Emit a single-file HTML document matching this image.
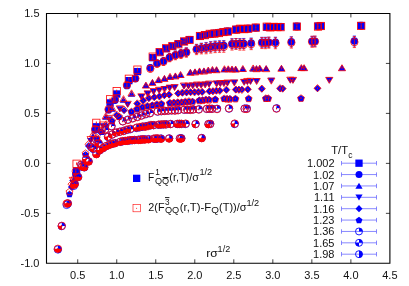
<!DOCTYPE html><html><head><meta charset="utf-8"><style>html,body{margin:0;padding:0;background:#fff}body{width:409px;height:286px;overflow:hidden;font-family:"Liberation Sans",sans-serif}</style></head><body><svg width="409" height="286" viewBox="0 0 409 286" style="display:block"><rect width="409" height="286" fill="#fff"/><g><path d="M76.59,169.52V172.52" stroke="#0000ff" stroke-width="0.7" fill="none"/><rect x="72.94" y="167.37" width="7.3" height="7.3" fill="#0000ff"/><path d="M96.34,125.30V128.30" stroke="#0000ff" stroke-width="0.7" fill="none"/><rect x="92.69" y="123.15" width="7.3" height="7.3" fill="#0000ff"/><path d="M110.05,101.43V104.43" stroke="#0000ff" stroke-width="0.7" fill="none"/><rect x="106.40" y="99.28" width="7.3" height="7.3" fill="#0000ff"/><path d="M116.70,92.50V95.50" stroke="#0000ff" stroke-width="0.7" fill="none"/><rect x="113.05" y="90.35" width="7.3" height="7.3" fill="#0000ff"/><path d="M128.84,78.92V82.36" stroke="#0000ff" stroke-width="0.7" fill="none"/><rect x="125.19" y="76.99" width="7.3" height="7.3" fill="#0000ff"/><path d="M137.44,69.65V73.52" stroke="#0000ff" stroke-width="0.7" fill="none"/><rect x="133.79" y="67.94" width="7.3" height="7.3" fill="#0000ff"/><path d="M152.72,55.34V59.97M151.12,55.34h3.2M151.12,59.97h3.2" stroke="#0000ff" stroke-width="0.7" fill="none"/><rect x="149.07" y="54.01" width="7.3" height="7.3" fill="#0000ff"/><path d="M159.64,49.64V54.62M158.04,49.64h3.2M158.04,54.62h3.2" stroke="#0000ff" stroke-width="0.7" fill="none"/><rect x="155.99" y="48.48" width="7.3" height="7.3" fill="#0000ff"/><path d="M166.18,45.92V51.23M164.58,45.92h3.2M164.58,51.23h3.2" stroke="#0000ff" stroke-width="0.7" fill="none"/><rect x="162.53" y="44.93" width="7.3" height="7.3" fill="#0000ff"/><path d="M172.40,43.52V49.14M170.80,43.52h3.2M170.80,49.14h3.2" stroke="#0000ff" stroke-width="0.7" fill="none"/><rect x="168.75" y="42.68" width="7.3" height="7.3" fill="#0000ff"/><path d="M178.35,40.82V46.74M176.75,40.82h3.2M176.75,46.74h3.2" stroke="#0000ff" stroke-width="0.7" fill="none"/><rect x="174.70" y="40.13" width="7.3" height="7.3" fill="#0000ff"/><path d="M184.05,38.38V44.59M182.45,38.38h3.2M182.45,44.59h3.2" stroke="#0000ff" stroke-width="0.7" fill="none"/><rect x="180.40" y="37.83" width="7.3" height="7.3" fill="#0000ff"/><path d="M189.54,36.42V42.89M187.94,36.42h3.2M187.94,42.89h3.2" stroke="#0000ff" stroke-width="0.7" fill="none"/><rect x="185.89" y="36.00" width="7.3" height="7.3" fill="#0000ff"/><path d="M199.95,32.63V39.43M198.35,32.63h3.2M198.35,39.43h3.2" stroke="#0000ff" stroke-width="0.7" fill="none"/><rect x="196.30" y="32.38" width="7.3" height="7.3" fill="#0000ff"/><path d="M204.91,31.59V38.39M203.31,31.59h3.2M203.31,38.39h3.2" stroke="#0000ff" stroke-width="0.7" fill="none"/><rect x="201.26" y="31.34" width="7.3" height="7.3" fill="#0000ff"/><path d="M209.73,30.82V37.62M208.13,30.82h3.2M208.13,37.62h3.2" stroke="#0000ff" stroke-width="0.7" fill="none"/><rect x="206.08" y="30.57" width="7.3" height="7.3" fill="#0000ff"/><path d="M214.42,30.04V36.84M212.82,30.04h3.2M212.82,36.84h3.2" stroke="#0000ff" stroke-width="0.7" fill="none"/><rect x="210.77" y="29.79" width="7.3" height="7.3" fill="#0000ff"/><path d="M218.98,29.26V36.06M217.38,29.26h3.2M217.38,36.06h3.2" stroke="#0000ff" stroke-width="0.7" fill="none"/><rect x="215.33" y="29.01" width="7.3" height="7.3" fill="#0000ff"/><path d="M223.44,28.61V35.41M221.84,28.61h3.2M221.84,35.41h3.2" stroke="#0000ff" stroke-width="0.7" fill="none"/><rect x="219.79" y="28.36" width="7.3" height="7.3" fill="#0000ff"/><path d="M227.78,27.93V34.73M226.18,27.93h3.2M226.18,34.73h3.2" stroke="#0000ff" stroke-width="0.7" fill="none"/><rect x="224.13" y="27.68" width="7.3" height="7.3" fill="#0000ff"/><path d="M236.19,26.09V32.89M234.59,26.09h3.2M234.59,32.89h3.2" stroke="#0000ff" stroke-width="0.7" fill="none"/><rect x="232.54" y="25.84" width="7.3" height="7.3" fill="#0000ff"/><path d="M240.26,25.77V32.57M238.66,25.77h3.2M238.66,32.57h3.2" stroke="#0000ff" stroke-width="0.7" fill="none"/><rect x="236.61" y="25.52" width="7.3" height="7.3" fill="#0000ff"/><path d="M244.26,25.46V32.26M242.66,25.46h3.2M242.66,32.26h3.2" stroke="#0000ff" stroke-width="0.7" fill="none"/><rect x="240.61" y="25.21" width="7.3" height="7.3" fill="#0000ff"/><path d="M248.17,25.16V31.96M246.57,25.16h3.2M246.57,31.96h3.2" stroke="#0000ff" stroke-width="0.7" fill="none"/><rect x="244.52" y="24.91" width="7.3" height="7.3" fill="#0000ff"/><path d="M255.79,24.36V31.16M254.19,24.36h3.2M254.19,31.16h3.2" stroke="#0000ff" stroke-width="0.7" fill="none"/><rect x="252.14" y="24.11" width="7.3" height="7.3" fill="#0000ff"/><path d="M266.74,23.77V30.57M265.14,23.77h3.2M265.14,30.57h3.2" stroke="#0000ff" stroke-width="0.7" fill="none"/><rect x="263.09" y="23.52" width="7.3" height="7.3" fill="#0000ff"/><path d="M270.28,23.59V30.39M268.68,23.59h3.2M268.68,30.39h3.2" stroke="#0000ff" stroke-width="0.7" fill="none"/><rect x="266.63" y="23.34" width="7.3" height="7.3" fill="#0000ff"/><path d="M273.76,23.52V30.32M272.16,23.52h3.2M272.16,30.32h3.2" stroke="#0000ff" stroke-width="0.7" fill="none"/><rect x="270.11" y="23.27" width="7.3" height="7.3" fill="#0000ff"/><path d="M277.19,23.44V30.24M275.59,23.44h3.2M275.59,30.24h3.2" stroke="#0000ff" stroke-width="0.7" fill="none"/><rect x="273.54" y="23.19" width="7.3" height="7.3" fill="#0000ff"/><path d="M280.58,23.36V30.16M278.98,23.36h3.2M278.98,30.16h3.2" stroke="#0000ff" stroke-width="0.7" fill="none"/><rect x="276.93" y="23.11" width="7.3" height="7.3" fill="#0000ff"/><path d="M296.83,23.00V29.80M295.23,23.00h3.2M295.23,29.80h3.2" stroke="#0000ff" stroke-width="0.7" fill="none"/><rect x="293.18" y="22.75" width="7.3" height="7.3" fill="#0000ff"/><path d="M318.00,22.74V29.54M316.40,22.74h3.2M316.40,29.54h3.2" stroke="#0000ff" stroke-width="0.7" fill="none"/><rect x="314.35" y="22.49" width="7.3" height="7.3" fill="#0000ff"/><path d="M320.89,22.70V29.50M319.29,22.70h3.2M319.29,29.50h3.2" stroke="#0000ff" stroke-width="0.7" fill="none"/><rect x="317.24" y="22.45" width="7.3" height="7.3" fill="#0000ff"/><path d="M361.20,22.20V29.00M359.60,22.20h3.2M359.60,29.00h3.2" stroke="#0000ff" stroke-width="0.7" fill="none"/><rect x="357.55" y="21.95" width="7.3" height="7.3" fill="#0000ff"/><path d="M75.79,172.03V176.03M74.19,172.03h3.2M74.19,176.03h3.2" stroke="#0000ff" stroke-width="0.7" fill="none"/><circle cx="75.79" cy="174.03" r="3.7" fill="#0000ff"/><path d="M95.12,127.97V131.97M93.52,127.97h3.2M93.52,131.97h3.2" stroke="#0000ff" stroke-width="0.7" fill="none"/><circle cx="95.12" cy="129.97" r="3.7" fill="#0000ff"/><path d="M108.54,107.89V111.89M106.94,107.89h3.2M106.94,111.89h3.2" stroke="#0000ff" stroke-width="0.7" fill="none"/><circle cx="108.54" cy="109.89" r="3.7" fill="#0000ff"/><path d="M115.05,98.31V102.31M113.45,98.31h3.2M113.45,102.31h3.2" stroke="#0000ff" stroke-width="0.7" fill="none"/><circle cx="115.05" cy="100.31" r="3.7" fill="#0000ff"/><path d="M126.93,83.40V87.86M125.33,83.40h3.2M125.33,87.86h3.2" stroke="#0000ff" stroke-width="0.7" fill="none"/><circle cx="126.93" cy="85.63" r="3.7" fill="#0000ff"/><path d="M135.35,76.16V81.18M133.75,76.16h3.2M133.75,81.18h3.2" stroke="#0000ff" stroke-width="0.7" fill="none"/><circle cx="135.35" cy="78.67" r="3.7" fill="#0000ff"/><path d="M150.30,64.78V70.80M148.70,64.78h3.2M148.70,70.80h3.2" stroke="#0000ff" stroke-width="0.7" fill="none"/><circle cx="150.3" cy="67.79" r="3.7" fill="#0000ff"/><path d="M157.07,59.93V66.40M155.47,59.93h3.2M155.47,66.40h3.2" stroke="#0000ff" stroke-width="0.7" fill="none"/><circle cx="157.07" cy="63.17" r="3.7" fill="#0000ff"/><path d="M163.48,57.46V64.36M161.88,57.46h3.2M161.88,64.36h3.2" stroke="#0000ff" stroke-width="0.7" fill="none"/><circle cx="163.48" cy="60.91" r="3.7" fill="#0000ff"/><path d="M169.57,53.61V60.91M167.97,53.61h3.2M167.97,60.91h3.2" stroke="#0000ff" stroke-width="0.7" fill="none"/><circle cx="169.57" cy="57.26" r="3.7" fill="#0000ff"/><path d="M175.39,50.98V58.67M173.79,50.98h3.2M173.79,58.67h3.2" stroke="#0000ff" stroke-width="0.7" fill="none"/><circle cx="175.39" cy="54.83" r="3.7" fill="#0000ff"/><path d="M180.97,49.47V57.54M179.37,49.47h3.2M179.37,57.54h3.2" stroke="#0000ff" stroke-width="0.7" fill="none"/><circle cx="180.97" cy="53.51" r="3.7" fill="#0000ff"/><path d="M186.34,47.83V56.25M184.74,47.83h3.2M184.74,56.25h3.2" stroke="#0000ff" stroke-width="0.7" fill="none"/><circle cx="186.34" cy="52.04" r="3.7" fill="#0000ff"/><path d="M196.53,44.30V53.40M194.93,44.30h3.2M194.93,53.40h3.2" stroke="#0000ff" stroke-width="0.7" fill="none"/><circle cx="196.53" cy="48.85" r="3.7" fill="#0000ff"/><path d="M201.39,43.20V52.63M199.79,43.20h3.2M199.79,52.63h3.2" stroke="#0000ff" stroke-width="0.7" fill="none"/><circle cx="201.39" cy="47.92" r="3.7" fill="#0000ff"/><path d="M206.11,42.46V52.20M204.51,42.46h3.2M204.51,52.20h3.2" stroke="#0000ff" stroke-width="0.7" fill="none"/><circle cx="206.11" cy="47.33" r="3.7" fill="#0000ff"/><path d="M210.70,41.67V51.67M209.10,41.67h3.2M209.10,51.67h3.2" stroke="#0000ff" stroke-width="0.7" fill="none"/><circle cx="210.7" cy="46.67" r="3.7" fill="#0000ff"/><path d="M215.16,40.99V50.99M213.56,40.99h3.2M213.56,50.99h3.2" stroke="#0000ff" stroke-width="0.7" fill="none"/><circle cx="215.16" cy="45.99" r="3.7" fill="#0000ff"/><path d="M219.52,40.77V50.77M217.92,40.77h3.2M217.92,50.77h3.2" stroke="#0000ff" stroke-width="0.7" fill="none"/><circle cx="219.52" cy="45.77" r="3.7" fill="#0000ff"/><path d="M223.78,40.56V50.56M222.18,40.56h3.2M222.18,50.56h3.2" stroke="#0000ff" stroke-width="0.7" fill="none"/><circle cx="223.78" cy="45.56" r="3.7" fill="#0000ff"/><path d="M232.01,38.70V48.70M230.41,38.70h3.2M230.41,48.70h3.2" stroke="#0000ff" stroke-width="0.7" fill="none"/><circle cx="232.01" cy="43.7" r="3.7" fill="#0000ff"/><path d="M235.99,38.63V48.63M234.39,38.63h3.2M234.39,48.63h3.2" stroke="#0000ff" stroke-width="0.7" fill="none"/><circle cx="235.99" cy="43.63" r="3.7" fill="#0000ff"/><path d="M239.90,38.56V48.56M238.30,38.56h3.2M238.30,48.56h3.2" stroke="#0000ff" stroke-width="0.7" fill="none"/><circle cx="239.9" cy="43.56" r="3.7" fill="#0000ff"/><path d="M243.73,38.46V48.46M242.13,38.46h3.2M242.13,48.46h3.2" stroke="#0000ff" stroke-width="0.7" fill="none"/><circle cx="243.73" cy="43.46" r="3.7" fill="#0000ff"/><path d="M251.19,38.02V48.02M249.59,38.02h3.2M249.59,48.02h3.2" stroke="#0000ff" stroke-width="0.7" fill="none"/><circle cx="251.19" cy="43.02" r="3.7" fill="#0000ff"/><path d="M261.91,37.29V47.29M260.31,37.29h3.2M260.31,47.29h3.2" stroke="#0000ff" stroke-width="0.7" fill="none"/><circle cx="261.91" cy="42.29" r="3.7" fill="#0000ff"/><path d="M265.37,37.27V47.27M263.77,37.27h3.2M263.77,47.27h3.2" stroke="#0000ff" stroke-width="0.7" fill="none"/><circle cx="265.37" cy="42.27" r="3.7" fill="#0000ff"/><path d="M268.78,37.24V47.24M267.18,37.24h3.2M267.18,47.24h3.2" stroke="#0000ff" stroke-width="0.7" fill="none"/><circle cx="268.78" cy="42.24" r="3.7" fill="#0000ff"/><path d="M275.45,37.19V47.19M273.85,37.19h3.2M273.85,47.19h3.2" stroke="#0000ff" stroke-width="0.7" fill="none"/><circle cx="275.45" cy="42.19" r="3.7" fill="#0000ff"/><path d="M291.36,36.79V46.79M289.76,36.79h3.2M289.76,46.79h3.2" stroke="#0000ff" stroke-width="0.7" fill="none"/><circle cx="291.36" cy="41.79" r="3.7" fill="#0000ff"/><path d="M312.08,36.32V46.32M310.48,36.32h3.2M310.48,46.32h3.2" stroke="#0000ff" stroke-width="0.7" fill="none"/><circle cx="312.08" cy="41.32" r="3.7" fill="#0000ff"/><path d="M314.91,36.29V46.29M313.31,36.29h3.2M313.31,46.29h3.2" stroke="#0000ff" stroke-width="0.7" fill="none"/><circle cx="314.91" cy="41.29" r="3.7" fill="#0000ff"/><path d="M354.37,36.00V46.00M352.77,36.00h3.2M352.77,46.00h3.2" stroke="#0000ff" stroke-width="0.7" fill="none"/><circle cx="354.37" cy="41.0" r="3.7" fill="#0000ff"/><path d="M74.33,177.23V179.63" stroke="#0000ff" stroke-width="0.7" fill="none"/><polygon points="74.33,175.33 70.73,181.33 77.93,181.33" fill="#0000ff"/><path d="M92.91,134.79V137.19" stroke="#0000ff" stroke-width="0.7" fill="none"/><polygon points="92.91,132.89 89.31,138.89 96.51,138.89" fill="#0000ff"/><path d="M105.80,115.77V118.17" stroke="#0000ff" stroke-width="0.7" fill="none"/><polygon points="105.80,113.87 102.20,119.87 109.40,119.87" fill="#0000ff"/><path d="M112.05,107.76V110.16" stroke="#0000ff" stroke-width="0.7" fill="none"/><polygon points="112.05,105.86 108.45,111.86 115.65,111.86" fill="#0000ff"/><path d="M123.47,98.72V101.12" stroke="#0000ff" stroke-width="0.7" fill="none"/><polygon points="123.47,96.82 119.87,102.82 127.07,102.82" fill="#0000ff"/><path d="M131.56,92.55V94.95" stroke="#0000ff" stroke-width="0.7" fill="none"/><polygon points="131.56,90.65 127.96,96.65 135.16,96.65" fill="#0000ff"/><path d="M145.92,83.95V86.35" stroke="#0000ff" stroke-width="0.7" fill="none"/><polygon points="145.92,82.05 142.32,88.05 149.52,88.05" fill="#0000ff"/><path d="M152.43,81.06V83.46" stroke="#0000ff" stroke-width="0.7" fill="none"/><polygon points="152.43,79.16 148.83,85.16 156.03,85.16" fill="#0000ff"/><path d="M158.58,79.02V81.42" stroke="#0000ff" stroke-width="0.7" fill="none"/><polygon points="158.58,77.12 154.98,83.12 162.18,83.12" fill="#0000ff"/><path d="M164.43,77.18V79.58" stroke="#0000ff" stroke-width="0.7" fill="none"/><polygon points="164.43,75.28 160.83,81.28 168.03,81.28" fill="#0000ff"/><path d="M170.02,75.70V78.10" stroke="#0000ff" stroke-width="0.7" fill="none"/><polygon points="170.02,73.80 166.42,79.80 173.62,79.80" fill="#0000ff"/><path d="M175.39,74.62V77.02" stroke="#0000ff" stroke-width="0.7" fill="none"/><polygon points="175.39,72.72 171.79,78.72 178.99,78.72" fill="#0000ff"/><path d="M180.55,73.55V75.95" stroke="#0000ff" stroke-width="0.7" fill="none"/><polygon points="180.55,71.65 176.95,77.65 184.15,77.65" fill="#0000ff"/><path d="M190.34,70.86V73.26" stroke="#0000ff" stroke-width="0.7" fill="none"/><polygon points="190.34,68.96 186.74,74.96 193.94,74.96" fill="#0000ff"/><path d="M195.01,70.35V72.75" stroke="#0000ff" stroke-width="0.7" fill="none"/><polygon points="195.01,68.45 191.41,74.45 198.61,74.45" fill="#0000ff"/><path d="M199.54,69.83V72.23" stroke="#0000ff" stroke-width="0.7" fill="none"/><polygon points="199.54,67.93 195.94,73.93 203.14,73.93" fill="#0000ff"/><path d="M203.95,69.46V71.86" stroke="#0000ff" stroke-width="0.7" fill="none"/><polygon points="203.95,67.56 200.35,73.56 207.55,73.56" fill="#0000ff"/><path d="M208.24,69.11V71.51" stroke="#0000ff" stroke-width="0.7" fill="none"/><polygon points="208.24,67.21 204.64,73.21 211.84,73.21" fill="#0000ff"/><path d="M212.43,68.77V71.17" stroke="#0000ff" stroke-width="0.7" fill="none"/><polygon points="212.43,66.87 208.83,72.87 216.03,72.87" fill="#0000ff"/><path d="M216.52,68.51V70.91" stroke="#0000ff" stroke-width="0.7" fill="none"/><polygon points="216.52,66.61 212.92,72.61 220.12,72.61" fill="#0000ff"/><path d="M224.42,68.08V70.48" stroke="#0000ff" stroke-width="0.7" fill="none"/><polygon points="224.42,66.18 220.82,72.18 228.02,72.18" fill="#0000ff"/><path d="M228.25,68.02V70.42" stroke="#0000ff" stroke-width="0.7" fill="none"/><polygon points="228.25,66.12 224.65,72.12 231.85,72.12" fill="#0000ff"/><path d="M232.01,67.96V70.36" stroke="#0000ff" stroke-width="0.7" fill="none"/><polygon points="232.01,66.06 228.41,72.06 235.61,72.06" fill="#0000ff"/><path d="M235.69,67.90V70.30" stroke="#0000ff" stroke-width="0.7" fill="none"/><polygon points="235.69,66.00 232.09,72.00 239.29,72.00" fill="#0000ff"/><path d="M242.85,67.76V70.16" stroke="#0000ff" stroke-width="0.7" fill="none"/><polygon points="242.85,65.86 239.25,71.86 246.45,71.86" fill="#0000ff"/><path d="M253.15,67.30V69.70" stroke="#0000ff" stroke-width="0.7" fill="none"/><polygon points="253.15,65.40 249.55,71.40 256.75,71.40" fill="#0000ff"/><path d="M256.48,67.25V69.65" stroke="#0000ff" stroke-width="0.7" fill="none"/><polygon points="256.48,65.35 252.88,71.35 260.08,71.35" fill="#0000ff"/><path d="M259.75,67.20V69.60" stroke="#0000ff" stroke-width="0.7" fill="none"/><polygon points="259.75,65.30 256.15,71.30 263.35,71.30" fill="#0000ff"/><path d="M266.16,67.10V69.50" stroke="#0000ff" stroke-width="0.7" fill="none"/><polygon points="266.16,65.20 262.56,71.20 269.76,71.20" fill="#0000ff"/><path d="M281.45,66.80V69.20" stroke="#0000ff" stroke-width="0.7" fill="none"/><polygon points="281.45,64.90 277.85,70.90 285.05,70.90" fill="#0000ff"/><path d="M301.35,66.60V69.00" stroke="#0000ff" stroke-width="0.7" fill="none"/><polygon points="301.35,64.70 297.75,70.70 304.95,70.70" fill="#0000ff"/><path d="M304.07,66.60V69.00" stroke="#0000ff" stroke-width="0.7" fill="none"/><polygon points="304.07,64.70 300.47,70.70 307.67,70.70" fill="#0000ff"/><path d="M341.99,66.60V69.00" stroke="#0000ff" stroke-width="0.7" fill="none"/><polygon points="341.99,64.70 338.39,70.70 345.59,70.70" fill="#0000ff"/><path d="M72.84,181.71V184.11" stroke="#0000ff" stroke-width="0.7" fill="none"/><polygon points="72.84,186.01 69.24,180.01 76.44,180.01" fill="#0000ff"/><path d="M90.64,139.76V142.16" stroke="#0000ff" stroke-width="0.7" fill="none"/><polygon points="90.64,144.06 87.04,138.06 94.24,138.06" fill="#0000ff"/><path d="M102.99,125.01V127.41" stroke="#0000ff" stroke-width="0.7" fill="none"/><polygon points="102.99,129.31 99.39,123.31 106.59,123.31" fill="#0000ff"/><path d="M108.98,118.20V120.60" stroke="#0000ff" stroke-width="0.7" fill="none"/><polygon points="108.98,122.50 105.38,116.50 112.58,116.50" fill="#0000ff"/><path d="M119.91,107.87V110.27" stroke="#0000ff" stroke-width="0.7" fill="none"/><polygon points="119.91,112.17 116.31,106.17 123.51,106.17" fill="#0000ff"/><path d="M127.67,103.54V105.94" stroke="#0000ff" stroke-width="0.7" fill="none"/><polygon points="127.67,107.84 124.07,101.84 131.27,101.84" fill="#0000ff"/><path d="M141.43,95.75V98.15" stroke="#0000ff" stroke-width="0.7" fill="none"/><polygon points="141.43,100.05 137.83,94.05 145.03,94.05" fill="#0000ff"/><path d="M147.66,92.48V94.88" stroke="#0000ff" stroke-width="0.7" fill="none"/><polygon points="147.66,96.78 144.06,90.78 151.26,90.78" fill="#0000ff"/><path d="M153.56,90.56V92.96" stroke="#0000ff" stroke-width="0.7" fill="none"/><polygon points="153.56,94.86 149.96,88.86 157.16,88.86" fill="#0000ff"/><path d="M159.16,89.16V91.56" stroke="#0000ff" stroke-width="0.7" fill="none"/><polygon points="159.16,93.46 155.56,87.46 162.76,87.46" fill="#0000ff"/><path d="M164.52,87.82V90.22" stroke="#0000ff" stroke-width="0.7" fill="none"/><polygon points="164.52,92.12 160.92,86.12 168.12,86.12" fill="#0000ff"/><path d="M169.66,86.77V89.17" stroke="#0000ff" stroke-width="0.7" fill="none"/><polygon points="169.66,91.07 166.06,85.07 173.26,85.07" fill="#0000ff"/><path d="M174.60,86.30V88.70" stroke="#0000ff" stroke-width="0.7" fill="none"/><polygon points="174.60,90.60 171.00,84.60 178.20,84.60" fill="#0000ff"/><path d="M183.98,85.20V87.60" stroke="#0000ff" stroke-width="0.7" fill="none"/><polygon points="183.98,89.50 180.38,83.50 187.58,83.50" fill="#0000ff"/><path d="M188.46,84.89V87.29" stroke="#0000ff" stroke-width="0.7" fill="none"/><polygon points="188.46,89.19 184.86,83.19 192.06,83.19" fill="#0000ff"/><path d="M192.80,84.53V86.93" stroke="#0000ff" stroke-width="0.7" fill="none"/><polygon points="192.80,88.83 189.20,82.83 196.40,82.83" fill="#0000ff"/><path d="M197.02,84.19V86.59" stroke="#0000ff" stroke-width="0.7" fill="none"/><polygon points="197.02,88.49 193.42,82.49 200.62,82.49" fill="#0000ff"/><path d="M201.13,83.86V86.26" stroke="#0000ff" stroke-width="0.7" fill="none"/><polygon points="201.13,88.16 197.53,82.16 204.73,82.16" fill="#0000ff"/><path d="M205.15,83.53V85.93" stroke="#0000ff" stroke-width="0.7" fill="none"/><polygon points="205.15,87.83 201.55,81.83 208.75,81.83" fill="#0000ff"/><path d="M209.06,83.21V85.61" stroke="#0000ff" stroke-width="0.7" fill="none"/><polygon points="209.06,87.51 205.46,81.51 212.66,81.51" fill="#0000ff"/><path d="M216.64,82.57V84.97" stroke="#0000ff" stroke-width="0.7" fill="none"/><polygon points="216.64,86.87 213.04,80.87 220.24,80.87" fill="#0000ff"/><path d="M220.31,82.33V84.73" stroke="#0000ff" stroke-width="0.7" fill="none"/><polygon points="220.31,86.63 216.71,80.63 223.91,80.63" fill="#0000ff"/><path d="M223.90,82.11V84.51" stroke="#0000ff" stroke-width="0.7" fill="none"/><polygon points="223.90,86.41 220.30,80.41 227.50,80.41" fill="#0000ff"/><path d="M227.43,81.88V84.28" stroke="#0000ff" stroke-width="0.7" fill="none"/><polygon points="227.43,86.18 223.83,80.18 231.03,80.18" fill="#0000ff"/><path d="M234.30,81.44V83.84" stroke="#0000ff" stroke-width="0.7" fill="none"/><polygon points="234.30,85.74 230.70,79.74 237.90,79.74" fill="#0000ff"/><path d="M244.17,80.83V83.23" stroke="#0000ff" stroke-width="0.7" fill="none"/><polygon points="244.17,85.13 240.57,79.13 247.77,79.13" fill="#0000ff"/><path d="M247.35,80.64V83.04" stroke="#0000ff" stroke-width="0.7" fill="none"/><polygon points="247.35,84.94 243.75,78.94 250.95,78.94" fill="#0000ff"/><path d="M250.49,80.44V82.84" stroke="#0000ff" stroke-width="0.7" fill="none"/><polygon points="250.49,84.74 246.89,78.74 254.09,78.74" fill="#0000ff"/><path d="M256.63,80.07V82.47" stroke="#0000ff" stroke-width="0.7" fill="none"/><polygon points="256.63,84.37 253.03,78.37 260.23,78.37" fill="#0000ff"/><path d="M271.27,79.40V81.80" stroke="#0000ff" stroke-width="0.7" fill="none"/><polygon points="271.27,83.70 267.67,77.70 274.87,77.70" fill="#0000ff"/><path d="M290.34,79.11V81.51" stroke="#0000ff" stroke-width="0.7" fill="none"/><polygon points="290.34,83.41 286.74,77.41 293.94,77.41" fill="#0000ff"/><path d="M292.95,79.09V81.49" stroke="#0000ff" stroke-width="0.7" fill="none"/><polygon points="292.95,83.39 289.35,77.39 296.55,77.39" fill="#0000ff"/><path d="M329.27,79.00V81.40" stroke="#0000ff" stroke-width="0.7" fill="none"/><polygon points="329.27,83.30 325.67,77.30 332.87,77.30" fill="#0000ff"/><path d="M71.45,186.32V187.92" stroke="#0000ff" stroke-width="0.7" fill="none"/><polygon points="71.45,183.52 67.95,187.12 71.45,190.72 74.95,187.12" fill="#0000ff"/><path d="M88.53,145.16V146.76" stroke="#0000ff" stroke-width="0.7" fill="none"/><polygon points="88.53,142.36 85.03,145.96 88.53,149.56 92.03,145.96" fill="#0000ff"/><path d="M100.38,131.40V133.00" stroke="#0000ff" stroke-width="0.7" fill="none"/><polygon points="100.38,128.60 96.88,132.20 100.38,135.80 103.88,132.20" fill="#0000ff"/><path d="M106.13,124.86V126.46" stroke="#0000ff" stroke-width="0.7" fill="none"/><polygon points="106.13,122.06 102.63,125.66 106.13,129.26 109.63,125.66" fill="#0000ff"/><path d="M116.62,114.50V116.10" stroke="#0000ff" stroke-width="0.7" fill="none"/><polygon points="116.62,111.70 113.12,115.30 116.62,118.90 120.12,115.30" fill="#0000ff"/><path d="M124.06,109.68V111.28" stroke="#0000ff" stroke-width="0.7" fill="none"/><polygon points="124.06,106.88 120.56,110.48 124.06,114.08 127.56,110.48" fill="#0000ff"/><path d="M137.27,102.95V104.55" stroke="#0000ff" stroke-width="0.7" fill="none"/><polygon points="137.27,100.15 133.77,103.75 137.27,107.35 140.77,103.75" fill="#0000ff"/><path d="M143.25,99.68V101.28" stroke="#0000ff" stroke-width="0.7" fill="none"/><polygon points="143.25,96.88 139.75,100.48 143.25,104.08 146.75,100.48" fill="#0000ff"/><path d="M148.90,97.56V99.16" stroke="#0000ff" stroke-width="0.7" fill="none"/><polygon points="148.90,94.76 145.40,98.36 148.90,101.96 152.40,98.36" fill="#0000ff"/><path d="M154.28,96.35V97.95" stroke="#0000ff" stroke-width="0.7" fill="none"/><polygon points="154.28,93.55 150.78,97.15 154.28,100.75 157.78,97.15" fill="#0000ff"/><path d="M159.42,95.50V97.10" stroke="#0000ff" stroke-width="0.7" fill="none"/><polygon points="159.42,92.70 155.92,96.30 159.42,99.90 162.92,96.30" fill="#0000ff"/><path d="M164.35,94.53V96.13" stroke="#0000ff" stroke-width="0.7" fill="none"/><polygon points="164.35,91.73 160.85,95.33 164.35,98.93 167.85,95.33" fill="#0000ff"/><path d="M169.09,93.99V95.59" stroke="#0000ff" stroke-width="0.7" fill="none"/><polygon points="169.09,91.19 165.59,94.79 169.09,98.39 172.59,94.79" fill="#0000ff"/><path d="M178.10,92.42V94.02" stroke="#0000ff" stroke-width="0.7" fill="none"/><polygon points="178.10,89.62 174.60,93.22 178.10,96.82 181.60,93.22" fill="#0000ff"/><path d="M182.39,92.03V93.63" stroke="#0000ff" stroke-width="0.7" fill="none"/><polygon points="182.39,89.23 178.89,92.83 182.39,96.43 185.89,92.83" fill="#0000ff"/><path d="M186.55,91.73V93.33" stroke="#0000ff" stroke-width="0.7" fill="none"/><polygon points="186.55,88.93 183.05,92.53 186.55,96.13 190.05,92.53" fill="#0000ff"/><path d="M190.60,91.44V93.04" stroke="#0000ff" stroke-width="0.7" fill="none"/><polygon points="190.60,88.64 187.10,92.24 190.60,95.84 194.10,92.24" fill="#0000ff"/><path d="M194.55,91.31V92.91" stroke="#0000ff" stroke-width="0.7" fill="none"/><polygon points="194.55,88.51 191.05,92.11 194.55,95.71 198.05,92.11" fill="#0000ff"/><path d="M198.40,91.27V92.87" stroke="#0000ff" stroke-width="0.7" fill="none"/><polygon points="198.40,88.47 194.90,92.07 198.40,95.67 201.90,92.07" fill="#0000ff"/><path d="M202.16,91.22V92.82" stroke="#0000ff" stroke-width="0.7" fill="none"/><polygon points="202.16,88.42 198.66,92.02 202.16,95.62 205.66,92.02" fill="#0000ff"/><path d="M209.43,90.60V92.20" stroke="#0000ff" stroke-width="0.7" fill="none"/><polygon points="209.43,87.80 205.93,91.40 209.43,95.00 212.93,91.40" fill="#0000ff"/><path d="M212.95,90.21V91.81" stroke="#0000ff" stroke-width="0.7" fill="none"/><polygon points="212.95,87.41 209.45,91.01 212.95,94.61 216.45,91.01" fill="#0000ff"/><path d="M216.40,89.94V91.54" stroke="#0000ff" stroke-width="0.7" fill="none"/><polygon points="216.40,87.14 212.90,90.74 216.40,94.34 219.90,90.74" fill="#0000ff"/><path d="M219.78,89.68V91.28" stroke="#0000ff" stroke-width="0.7" fill="none"/><polygon points="219.78,86.88 216.28,90.48 219.78,94.08 223.28,90.48" fill="#0000ff"/><path d="M226.37,89.19V90.79" stroke="#0000ff" stroke-width="0.7" fill="none"/><polygon points="226.37,86.39 222.87,89.99 226.37,93.59 229.87,89.99" fill="#0000ff"/><path d="M235.84,88.89V90.49" stroke="#0000ff" stroke-width="0.7" fill="none"/><polygon points="235.84,86.09 232.34,89.69 235.84,93.29 239.34,89.69" fill="#0000ff"/><path d="M238.90,88.79V90.39" stroke="#0000ff" stroke-width="0.7" fill="none"/><polygon points="238.90,85.99 235.40,89.59 238.90,93.19 242.40,89.59" fill="#0000ff"/><path d="M241.91,88.69V90.29" stroke="#0000ff" stroke-width="0.7" fill="none"/><polygon points="241.91,85.89 238.41,89.49 241.91,93.09 245.41,89.49" fill="#0000ff"/><path d="M247.80,88.51V90.11" stroke="#0000ff" stroke-width="0.7" fill="none"/><polygon points="247.80,85.71 244.30,89.31 247.80,92.91 251.30,89.31" fill="#0000ff"/><path d="M261.85,88.10V89.70" stroke="#0000ff" stroke-width="0.7" fill="none"/><polygon points="261.85,85.30 258.35,88.90 261.85,92.50 265.35,88.90" fill="#0000ff"/><path d="M280.15,87.84V89.44" stroke="#0000ff" stroke-width="0.7" fill="none"/><polygon points="280.15,85.04 276.65,88.64 280.15,92.24 283.65,88.64" fill="#0000ff"/><path d="M282.65,87.81V89.41" stroke="#0000ff" stroke-width="0.7" fill="none"/><polygon points="282.65,85.01 279.15,88.61 282.65,92.21 286.15,88.61" fill="#0000ff"/><path d="M317.50,87.70V89.30" stroke="#0000ff" stroke-width="0.7" fill="none"/><polygon points="317.50,84.90 314.00,88.50 317.50,92.10 321.00,88.50" fill="#0000ff"/><path d="M69.52,193.23V194.83" stroke="#0000ff" stroke-width="0.7" fill="none"/><polygon points="69.52,190.78 72.94,193.27 71.64,197.29 67.40,197.29 66.10,193.27" fill="#0000ff"/><path d="M85.58,153.64V155.24" stroke="#0000ff" stroke-width="0.7" fill="none"/><polygon points="85.58,151.19 89.00,153.68 87.70,157.70 83.46,157.70 82.16,153.68" fill="#0000ff"/><path d="M96.73,138.40V140.00" stroke="#0000ff" stroke-width="0.7" fill="none"/><polygon points="96.73,135.95 100.15,138.44 98.85,142.46 94.61,142.46 93.31,138.44" fill="#0000ff"/><path d="M102.14,131.04V132.64" stroke="#0000ff" stroke-width="0.7" fill="none"/><polygon points="102.14,128.59 105.56,131.08 104.26,135.10 100.02,135.10 98.72,131.08" fill="#0000ff"/><path d="M112.01,120.19V121.79" stroke="#0000ff" stroke-width="0.7" fill="none"/><polygon points="112.01,117.74 115.43,120.23 114.13,124.25 109.89,124.25 108.59,120.23" fill="#0000ff"/><path d="M119.01,115.99V117.59" stroke="#0000ff" stroke-width="0.7" fill="none"/><polygon points="119.01,113.54 122.43,116.03 121.13,120.05 116.89,120.05 115.59,116.03" fill="#0000ff"/><path d="M131.44,110.66V112.26" stroke="#0000ff" stroke-width="0.7" fill="none"/><polygon points="131.44,108.21 134.86,110.70 133.56,114.72 129.32,114.72 128.02,110.70" fill="#0000ff"/><path d="M137.06,108.18V109.78" stroke="#0000ff" stroke-width="0.7" fill="none"/><polygon points="137.06,105.73 140.48,108.22 139.18,112.24 134.94,112.24 133.64,108.22" fill="#0000ff"/><path d="M142.38,106.41V108.01" stroke="#0000ff" stroke-width="0.7" fill="none"/><polygon points="142.38,103.96 145.80,106.45 144.50,110.47 140.26,110.47 138.96,106.45" fill="#0000ff"/><path d="M147.44,105.19V106.79" stroke="#0000ff" stroke-width="0.7" fill="none"/><polygon points="147.44,102.74 150.86,105.23 149.56,109.25 145.32,109.25 144.02,105.23" fill="#0000ff"/><path d="M152.28,104.24V105.84" stroke="#0000ff" stroke-width="0.7" fill="none"/><polygon points="152.28,101.79 155.70,104.28 154.40,108.30 150.16,108.30 148.86,104.28" fill="#0000ff"/><path d="M156.92,103.57V105.17" stroke="#0000ff" stroke-width="0.7" fill="none"/><polygon points="156.92,101.12 160.34,103.61 159.04,107.63 154.80,107.63 153.50,103.61" fill="#0000ff"/><path d="M161.38,103.02V104.62" stroke="#0000ff" stroke-width="0.7" fill="none"/><polygon points="161.38,100.57 164.80,103.06 163.50,107.08 159.26,107.08 157.96,103.06" fill="#0000ff"/><path d="M169.85,102.02V103.62" stroke="#0000ff" stroke-width="0.7" fill="none"/><polygon points="169.85,99.57 173.27,102.06 171.97,106.08 167.73,106.08 166.43,102.06" fill="#0000ff"/><path d="M173.89,101.75V103.35" stroke="#0000ff" stroke-width="0.7" fill="none"/><polygon points="173.89,99.30 177.31,101.79 176.01,105.81 171.77,105.81 170.47,101.79" fill="#0000ff"/><path d="M177.81,101.49V103.09" stroke="#0000ff" stroke-width="0.7" fill="none"/><polygon points="177.81,99.04 181.23,101.53 179.93,105.55 175.69,105.55 174.39,101.53" fill="#0000ff"/><path d="M181.62,101.24V102.84" stroke="#0000ff" stroke-width="0.7" fill="none"/><polygon points="181.62,98.79 185.04,101.28 183.74,105.30 179.50,105.30 178.20,101.28" fill="#0000ff"/><path d="M185.33,101.00V102.60" stroke="#0000ff" stroke-width="0.7" fill="none"/><polygon points="185.33,98.55 188.75,101.04 187.45,105.06 183.21,105.06 181.91,101.04" fill="#0000ff"/><path d="M188.95,100.77V102.37" stroke="#0000ff" stroke-width="0.7" fill="none"/><polygon points="188.95,98.32 192.37,100.81 191.07,104.83 186.83,104.83 185.53,100.81" fill="#0000ff"/><path d="M192.49,100.54V102.14" stroke="#0000ff" stroke-width="0.7" fill="none"/><polygon points="192.49,98.09 195.91,100.58 194.61,104.60 190.37,104.60 189.07,100.58" fill="#0000ff"/><path d="M199.33,99.32V100.92" stroke="#0000ff" stroke-width="0.7" fill="none"/><polygon points="199.33,96.87 202.75,99.36 201.45,103.38 197.21,103.38 195.91,99.36" fill="#0000ff"/><path d="M202.64,99.01V100.61" stroke="#0000ff" stroke-width="0.7" fill="none"/><polygon points="202.64,96.56 206.06,99.05 204.76,103.07 200.52,103.07 199.22,99.05" fill="#0000ff"/><path d="M205.88,98.78V100.38" stroke="#0000ff" stroke-width="0.7" fill="none"/><polygon points="205.88,96.33 209.30,98.82 208.00,102.84 203.76,102.84 202.46,98.82" fill="#0000ff"/><path d="M209.07,98.55V100.15" stroke="#0000ff" stroke-width="0.7" fill="none"/><polygon points="209.07,96.10 212.49,98.59 211.19,102.61 206.95,102.61 205.65,98.59" fill="#0000ff"/><path d="M215.27,98.15V99.75" stroke="#0000ff" stroke-width="0.7" fill="none"/><polygon points="215.27,95.70 218.69,98.19 217.39,102.21 213.15,102.21 211.85,98.19" fill="#0000ff"/><path d="M224.17,97.83V99.43" stroke="#0000ff" stroke-width="0.7" fill="none"/><polygon points="224.17,95.38 227.59,97.87 226.29,101.89 222.05,101.89 220.75,97.87" fill="#0000ff"/><path d="M227.05,97.78V99.38" stroke="#0000ff" stroke-width="0.7" fill="none"/><polygon points="227.05,95.33 230.47,97.82 229.17,101.84 224.93,101.84 223.63,97.82" fill="#0000ff"/><path d="M229.88,97.76V99.36" stroke="#0000ff" stroke-width="0.7" fill="none"/><polygon points="229.88,95.31 233.30,97.80 232.00,101.82 227.76,101.82 226.46,97.80" fill="#0000ff"/><path d="M235.43,97.71V99.31" stroke="#0000ff" stroke-width="0.7" fill="none"/><polygon points="235.43,95.26 238.85,97.75 237.55,101.77 233.31,101.77 232.01,97.75" fill="#0000ff"/><path d="M248.64,97.60V99.20" stroke="#0000ff" stroke-width="0.7" fill="none"/><polygon points="248.64,95.15 252.06,97.64 250.76,101.66 246.52,101.66 245.22,97.64" fill="#0000ff"/><path d="M265.86,97.57V99.17" stroke="#0000ff" stroke-width="0.7" fill="none"/><polygon points="265.86,95.12 269.28,97.61 267.98,101.63 263.74,101.63 262.44,97.61" fill="#0000ff"/><path d="M268.21,97.56V99.16" stroke="#0000ff" stroke-width="0.7" fill="none"/><polygon points="268.21,95.11 271.63,97.60 270.33,101.62 266.09,101.62 264.79,97.60" fill="#0000ff"/><path d="M301.00,97.50V99.10" stroke="#0000ff" stroke-width="0.7" fill="none"/><polygon points="301.00,95.05 304.42,97.54 303.12,101.56 298.88,101.56 297.58,97.54" fill="#0000ff"/><path d="M66.64,204.10V205.70" stroke="#0000ff" stroke-width="0.7" fill="none"/><circle cx="66.64" cy="204.9" r="3.7" fill="none" stroke="#0000ff" stroke-width="0.8"/><path d="M66.64,204.9 L70.34,204.90 A3.7,3.7 0 0 0 66.64,201.20 Z" fill="#0000ff"/><path d="M81.20,164.20V165.80" stroke="#0000ff" stroke-width="0.7" fill="none"/><circle cx="81.2" cy="165.0" r="3.7" fill="none" stroke="#0000ff" stroke-width="0.8"/><path d="M81.2,165.0 L84.90,165.00 A3.7,3.7 0 0 0 81.20,161.30 Z" fill="#0000ff"/><path d="M91.31,146.62V148.22" stroke="#0000ff" stroke-width="0.7" fill="none"/><circle cx="91.31" cy="147.42" r="3.7" fill="none" stroke="#0000ff" stroke-width="0.8"/><path d="M91.31,147.42 L95.01,147.42 A3.7,3.7 0 0 0 91.31,143.72 Z" fill="#0000ff"/><path d="M96.21,138.87V140.47" stroke="#0000ff" stroke-width="0.7" fill="none"/><circle cx="96.21" cy="139.67" r="3.7" fill="none" stroke="#0000ff" stroke-width="0.8"/><path d="M96.21,139.67 L99.91,139.67 A3.7,3.7 0 0 0 96.21,135.97 Z" fill="#0000ff"/><path d="M105.16,129.10V130.70" stroke="#0000ff" stroke-width="0.7" fill="none"/><circle cx="105.16" cy="129.9" r="3.7" fill="none" stroke="#0000ff" stroke-width="0.8"/><path d="M105.16,129.9 L108.86,129.90 A3.7,3.7 0 0 0 105.16,126.20 Z" fill="#0000ff"/><path d="M111.51,125.30V126.90" stroke="#0000ff" stroke-width="0.7" fill="none"/><circle cx="111.51" cy="126.1" r="3.7" fill="none" stroke="#0000ff" stroke-width="0.8"/><path d="M111.51,126.1 L115.21,126.10 A3.7,3.7 0 0 0 111.51,122.40 Z" fill="#0000ff"/><path d="M122.77,120.45V122.05" stroke="#0000ff" stroke-width="0.7" fill="none"/><circle cx="122.77" cy="121.25" r="3.7" fill="none" stroke="#0000ff" stroke-width="0.8"/><path d="M122.77,121.25 L126.47,121.25 A3.7,3.7 0 0 0 122.77,117.55 Z" fill="#0000ff"/><path d="M127.87,118.81V120.41" stroke="#0000ff" stroke-width="0.7" fill="none"/><circle cx="127.87" cy="119.61" r="3.7" fill="none" stroke="#0000ff" stroke-width="0.8"/><path d="M127.87,119.61 L131.57,119.61 A3.7,3.7 0 0 0 127.87,115.91 Z" fill="#0000ff"/><path d="M132.69,117.30V118.90" stroke="#0000ff" stroke-width="0.7" fill="none"/><circle cx="132.69" cy="118.1" r="3.7" fill="none" stroke="#0000ff" stroke-width="0.8"/><path d="M132.69,118.1 L136.39,118.10 A3.7,3.7 0 0 0 132.69,114.40 Z" fill="#0000ff"/><path d="M137.28,115.95V117.55" stroke="#0000ff" stroke-width="0.7" fill="none"/><circle cx="137.28" cy="116.75" r="3.7" fill="none" stroke="#0000ff" stroke-width="0.8"/><path d="M137.28,116.75 L140.98,116.75 A3.7,3.7 0 0 0 137.28,113.05 Z" fill="#0000ff"/><path d="M141.66,114.65V116.25" stroke="#0000ff" stroke-width="0.7" fill="none"/><circle cx="141.66" cy="115.45" r="3.7" fill="none" stroke="#0000ff" stroke-width="0.8"/><path d="M141.66,115.45 L145.36,115.45 A3.7,3.7 0 0 0 141.66,111.75 Z" fill="#0000ff"/><path d="M145.87,113.44V115.04" stroke="#0000ff" stroke-width="0.7" fill="none"/><circle cx="145.87" cy="114.24" r="3.7" fill="none" stroke="#0000ff" stroke-width="0.8"/><path d="M145.87,114.24 L149.57,114.24 A3.7,3.7 0 0 0 145.87,110.54 Z" fill="#0000ff"/><path d="M149.91,112.27V113.87" stroke="#0000ff" stroke-width="0.7" fill="none"/><circle cx="149.91" cy="113.07" r="3.7" fill="none" stroke="#0000ff" stroke-width="0.8"/><path d="M149.91,113.07 L153.61,113.07 A3.7,3.7 0 0 0 149.91,109.37 Z" fill="#0000ff"/><path d="M157.59,110.90V112.50" stroke="#0000ff" stroke-width="0.7" fill="none"/><circle cx="157.59" cy="111.7" r="3.7" fill="none" stroke="#0000ff" stroke-width="0.8"/><path d="M157.59,111.7 L161.29,111.70 A3.7,3.7 0 0 0 157.59,108.00 Z" fill="#0000ff"/><path d="M161.25,110.45V112.05" stroke="#0000ff" stroke-width="0.7" fill="none"/><circle cx="161.25" cy="111.25" r="3.7" fill="none" stroke="#0000ff" stroke-width="0.8"/><path d="M161.25,111.25 L164.95,111.25 A3.7,3.7 0 0 0 161.25,107.55 Z" fill="#0000ff"/><path d="M164.81,110.02V111.62" stroke="#0000ff" stroke-width="0.7" fill="none"/><circle cx="164.81" cy="110.82" r="3.7" fill="none" stroke="#0000ff" stroke-width="0.8"/><path d="M164.81,110.82 L168.51,110.82 A3.7,3.7 0 0 0 164.81,107.12 Z" fill="#0000ff"/><path d="M168.26,109.83V111.43" stroke="#0000ff" stroke-width="0.7" fill="none"/><circle cx="168.26" cy="110.63" r="3.7" fill="none" stroke="#0000ff" stroke-width="0.8"/><path d="M168.26,110.63 L171.96,110.63 A3.7,3.7 0 0 0 168.26,106.93 Z" fill="#0000ff"/><path d="M171.63,109.65V111.25" stroke="#0000ff" stroke-width="0.7" fill="none"/><circle cx="171.63" cy="110.45" r="3.7" fill="none" stroke="#0000ff" stroke-width="0.8"/><path d="M171.63,110.45 L175.33,110.45 A3.7,3.7 0 0 0 171.63,106.75 Z" fill="#0000ff"/><path d="M174.91,109.47V111.07" stroke="#0000ff" stroke-width="0.7" fill="none"/><circle cx="174.91" cy="110.27" r="3.7" fill="none" stroke="#0000ff" stroke-width="0.8"/><path d="M174.91,110.27 L178.61,110.27 A3.7,3.7 0 0 0 174.91,106.57 Z" fill="#0000ff"/><path d="M178.12,109.30V110.90" stroke="#0000ff" stroke-width="0.7" fill="none"/><circle cx="178.12" cy="110.1" r="3.7" fill="none" stroke="#0000ff" stroke-width="0.8"/><path d="M178.12,110.1 L181.82,110.10 A3.7,3.7 0 0 0 178.12,106.40 Z" fill="#0000ff"/><path d="M184.31,109.03V110.63" stroke="#0000ff" stroke-width="0.7" fill="none"/><circle cx="184.31" cy="109.83" r="3.7" fill="none" stroke="#0000ff" stroke-width="0.8"/><path d="M184.31,109.83 L188.01,109.83 A3.7,3.7 0 0 0 184.31,106.13 Z" fill="#0000ff"/><path d="M187.32,108.92V110.52" stroke="#0000ff" stroke-width="0.7" fill="none"/><circle cx="187.32" cy="109.72" r="3.7" fill="none" stroke="#0000ff" stroke-width="0.8"/><path d="M187.32,109.72 L191.02,109.72 A3.7,3.7 0 0 0 187.32,106.02 Z" fill="#0000ff"/><path d="M190.26,108.80V110.40" stroke="#0000ff" stroke-width="0.7" fill="none"/><circle cx="190.26" cy="109.6" r="3.7" fill="none" stroke="#0000ff" stroke-width="0.8"/><path d="M190.26,109.6 L193.96,109.60 A3.7,3.7 0 0 0 190.26,105.90 Z" fill="#0000ff"/><path d="M193.15,108.69V110.29" stroke="#0000ff" stroke-width="0.7" fill="none"/><circle cx="193.15" cy="109.49" r="3.7" fill="none" stroke="#0000ff" stroke-width="0.8"/><path d="M193.15,109.49 L196.85,109.49 A3.7,3.7 0 0 0 193.15,105.79 Z" fill="#0000ff"/><path d="M198.77,108.47V110.07" stroke="#0000ff" stroke-width="0.7" fill="none"/><circle cx="198.77" cy="109.27" r="3.7" fill="none" stroke="#0000ff" stroke-width="0.8"/><path d="M198.77,109.27 L202.47,109.27 A3.7,3.7 0 0 0 198.77,105.57 Z" fill="#0000ff"/><path d="M206.84,108.16V109.76" stroke="#0000ff" stroke-width="0.7" fill="none"/><circle cx="206.84" cy="108.96" r="3.7" fill="none" stroke="#0000ff" stroke-width="0.8"/><path d="M206.84,108.96 L210.54,108.96 A3.7,3.7 0 0 0 206.84,105.26 Z" fill="#0000ff"/><path d="M209.45,108.06V109.66" stroke="#0000ff" stroke-width="0.7" fill="none"/><circle cx="209.45" cy="108.86" r="3.7" fill="none" stroke="#0000ff" stroke-width="0.8"/><path d="M209.45,108.86 L213.15,108.86 A3.7,3.7 0 0 0 209.45,105.16 Z" fill="#0000ff"/><path d="M212.02,107.99V109.59" stroke="#0000ff" stroke-width="0.7" fill="none"/><circle cx="212.02" cy="108.79" r="3.7" fill="none" stroke="#0000ff" stroke-width="0.8"/><path d="M212.02,108.79 L215.72,108.79 A3.7,3.7 0 0 0 212.02,105.09 Z" fill="#0000ff"/><path d="M217.04,107.95V109.55" stroke="#0000ff" stroke-width="0.7" fill="none"/><circle cx="217.04" cy="108.75" r="3.7" fill="none" stroke="#0000ff" stroke-width="0.8"/><path d="M217.04,108.75 L220.74,108.75 A3.7,3.7 0 0 0 217.04,105.05 Z" fill="#0000ff"/><path d="M229.02,107.86V109.46" stroke="#0000ff" stroke-width="0.7" fill="none"/><circle cx="229.02" cy="108.66" r="3.7" fill="none" stroke="#0000ff" stroke-width="0.8"/><path d="M229.02,108.66 L232.72,108.66 A3.7,3.7 0 0 0 229.02,104.96 Z" fill="#0000ff"/><path d="M244.63,107.74V109.34" stroke="#0000ff" stroke-width="0.7" fill="none"/><circle cx="244.63" cy="108.54" r="3.7" fill="none" stroke="#0000ff" stroke-width="0.8"/><path d="M244.63,108.54 L248.33,108.54 A3.7,3.7 0 0 0 244.63,104.84 Z" fill="#0000ff"/><path d="M246.77,107.72V109.32" stroke="#0000ff" stroke-width="0.7" fill="none"/><circle cx="246.77" cy="108.52" r="3.7" fill="none" stroke="#0000ff" stroke-width="0.8"/><path d="M246.77,108.52 L250.47,108.52 A3.7,3.7 0 0 0 246.77,104.82 Z" fill="#0000ff"/><path d="M276.49,107.50V109.10" stroke="#0000ff" stroke-width="0.7" fill="none"/><circle cx="276.49" cy="108.3" r="3.7" fill="none" stroke="#0000ff" stroke-width="0.8"/><path d="M276.49,108.3 L280.19,108.30 A3.7,3.7 0 0 0 276.49,104.60 Z" fill="#0000ff"/><path d="M61.73,225.31V226.91" stroke="#0000ff" stroke-width="0.7" fill="none"/><circle cx="61.73" cy="226.11" r="3.7" fill="none" stroke="#0000ff" stroke-width="0.8"/><path d="M61.73,226.11 L65.43,226.11 A3.7,3.7 0 0 0 61.73,222.41 Z" fill="#0000ff"/><path d="M61.73,226.11 L58.03,226.11 A3.7,3.7 0 0 0 61.73,229.81 Z" fill="#0000ff"/><path d="M73.73,185.12V186.72" stroke="#0000ff" stroke-width="0.7" fill="none"/><circle cx="73.73" cy="185.92" r="3.7" fill="none" stroke="#0000ff" stroke-width="0.8"/><path d="M73.73,185.92 L77.43,185.92 A3.7,3.7 0 0 0 73.73,182.22 Z" fill="#0000ff"/><path d="M73.73,185.92 L70.03,185.92 A3.7,3.7 0 0 0 73.73,189.62 Z" fill="#0000ff"/><path d="M82.06,165.88V167.48" stroke="#0000ff" stroke-width="0.7" fill="none"/><circle cx="82.06" cy="166.68" r="3.7" fill="none" stroke="#0000ff" stroke-width="0.8"/><path d="M82.06,166.68 L85.76,166.68 A3.7,3.7 0 0 0 82.06,162.98 Z" fill="#0000ff"/><path d="M82.06,166.68 L78.36,166.68 A3.7,3.7 0 0 0 82.06,170.38 Z" fill="#0000ff"/><path d="M86.11,158.19V159.79" stroke="#0000ff" stroke-width="0.7" fill="none"/><circle cx="86.11" cy="158.99" r="3.7" fill="none" stroke="#0000ff" stroke-width="0.8"/><path d="M86.11,158.99 L89.81,158.99 A3.7,3.7 0 0 0 86.11,155.29 Z" fill="#0000ff"/><path d="M86.11,158.99 L82.41,158.99 A3.7,3.7 0 0 0 86.11,162.69 Z" fill="#0000ff"/><path d="M93.48,148.22V149.82" stroke="#0000ff" stroke-width="0.7" fill="none"/><circle cx="93.48" cy="149.02" r="3.7" fill="none" stroke="#0000ff" stroke-width="0.8"/><path d="M93.48,149.02 L97.18,149.02 A3.7,3.7 0 0 0 93.48,145.32 Z" fill="#0000ff"/><path d="M93.48,149.02 L89.78,149.02 A3.7,3.7 0 0 0 93.48,152.72 Z" fill="#0000ff"/><path d="M98.71,142.79V144.39" stroke="#0000ff" stroke-width="0.7" fill="none"/><circle cx="98.71" cy="143.59" r="3.7" fill="none" stroke="#0000ff" stroke-width="0.8"/><path d="M98.71,143.59 L102.41,143.59 A3.7,3.7 0 0 0 98.71,139.89 Z" fill="#0000ff"/><path d="M98.71,143.59 L95.01,143.59 A3.7,3.7 0 0 0 98.71,147.29 Z" fill="#0000ff"/><path d="M108.00,136.09V137.69" stroke="#0000ff" stroke-width="0.7" fill="none"/><circle cx="108.0" cy="136.89" r="3.7" fill="none" stroke="#0000ff" stroke-width="0.8"/><path d="M108.0,136.89 L111.70,136.89 A3.7,3.7 0 0 0 108.00,133.19 Z" fill="#0000ff"/><path d="M108.0,136.89 L104.30,136.89 A3.7,3.7 0 0 0 108.00,140.59 Z" fill="#0000ff"/><path d="M112.20,133.70V135.30" stroke="#0000ff" stroke-width="0.7" fill="none"/><circle cx="112.2" cy="134.5" r="3.7" fill="none" stroke="#0000ff" stroke-width="0.8"/><path d="M112.2,134.5 L115.90,134.50 A3.7,3.7 0 0 0 112.20,130.80 Z" fill="#0000ff"/><path d="M112.2,134.5 L108.50,134.50 A3.7,3.7 0 0 0 112.20,138.20 Z" fill="#0000ff"/><path d="M116.18,131.82V133.42" stroke="#0000ff" stroke-width="0.7" fill="none"/><circle cx="116.18" cy="132.62" r="3.7" fill="none" stroke="#0000ff" stroke-width="0.8"/><path d="M116.18,132.62 L119.88,132.62 A3.7,3.7 0 0 0 116.18,128.92 Z" fill="#0000ff"/><path d="M116.18,132.62 L112.48,132.62 A3.7,3.7 0 0 0 116.18,136.32 Z" fill="#0000ff"/><path d="M119.96,130.91V132.51" stroke="#0000ff" stroke-width="0.7" fill="none"/><circle cx="119.96" cy="131.71" r="3.7" fill="none" stroke="#0000ff" stroke-width="0.8"/><path d="M119.96,131.71 L123.66,131.71 A3.7,3.7 0 0 0 119.96,128.01 Z" fill="#0000ff"/><path d="M119.96,131.71 L116.26,131.71 A3.7,3.7 0 0 0 119.96,135.41 Z" fill="#0000ff"/><path d="M123.57,130.04V131.64" stroke="#0000ff" stroke-width="0.7" fill="none"/><circle cx="123.57" cy="130.84" r="3.7" fill="none" stroke="#0000ff" stroke-width="0.8"/><path d="M123.57,130.84 L127.27,130.84 A3.7,3.7 0 0 0 123.57,127.14 Z" fill="#0000ff"/><path d="M123.57,130.84 L119.87,130.84 A3.7,3.7 0 0 0 123.57,134.54 Z" fill="#0000ff"/><path d="M127.04,129.21V130.81" stroke="#0000ff" stroke-width="0.7" fill="none"/><circle cx="127.04" cy="130.01" r="3.7" fill="none" stroke="#0000ff" stroke-width="0.8"/><path d="M127.04,130.01 L130.74,130.01 A3.7,3.7 0 0 0 127.04,126.31 Z" fill="#0000ff"/><path d="M127.04,130.01 L123.34,130.01 A3.7,3.7 0 0 0 127.04,133.71 Z" fill="#0000ff"/><path d="M130.37,128.43V130.03" stroke="#0000ff" stroke-width="0.7" fill="none"/><circle cx="130.37" cy="129.23" r="3.7" fill="none" stroke="#0000ff" stroke-width="0.8"/><path d="M130.37,129.23 L134.07,129.23 A3.7,3.7 0 0 0 130.37,125.53 Z" fill="#0000ff"/><path d="M130.37,129.23 L126.67,129.23 A3.7,3.7 0 0 0 130.37,132.93 Z" fill="#0000ff"/><path d="M136.70,127.19V128.79" stroke="#0000ff" stroke-width="0.7" fill="none"/><circle cx="136.7" cy="127.99" r="3.7" fill="none" stroke="#0000ff" stroke-width="0.8"/><path d="M136.7,127.99 L140.40,127.99 A3.7,3.7 0 0 0 136.70,124.29 Z" fill="#0000ff"/><path d="M136.7,127.99 L133.00,127.99 A3.7,3.7 0 0 0 136.70,131.69 Z" fill="#0000ff"/><path d="M139.72,126.60V128.20" stroke="#0000ff" stroke-width="0.7" fill="none"/><circle cx="139.72" cy="127.4" r="3.7" fill="none" stroke="#0000ff" stroke-width="0.8"/><path d="M139.72,127.4 L143.42,127.40 A3.7,3.7 0 0 0 139.72,123.70 Z" fill="#0000ff"/><path d="M139.72,127.4 L136.02,127.40 A3.7,3.7 0 0 0 139.72,131.10 Z" fill="#0000ff"/><path d="M142.65,126.03V127.63" stroke="#0000ff" stroke-width="0.7" fill="none"/><circle cx="142.65" cy="126.83" r="3.7" fill="none" stroke="#0000ff" stroke-width="0.8"/><path d="M142.65,126.83 L146.35,126.83 A3.7,3.7 0 0 0 142.65,123.13 Z" fill="#0000ff"/><path d="M142.65,126.83 L138.95,126.83 A3.7,3.7 0 0 0 142.65,130.53 Z" fill="#0000ff"/><path d="M145.50,125.48V127.08" stroke="#0000ff" stroke-width="0.7" fill="none"/><circle cx="145.5" cy="126.28" r="3.7" fill="none" stroke="#0000ff" stroke-width="0.8"/><path d="M145.5,126.28 L149.20,126.28 A3.7,3.7 0 0 0 145.50,122.58 Z" fill="#0000ff"/><path d="M145.5,126.28 L141.80,126.28 A3.7,3.7 0 0 0 145.50,129.98 Z" fill="#0000ff"/><path d="M148.27,124.94V126.54" stroke="#0000ff" stroke-width="0.7" fill="none"/><circle cx="148.27" cy="125.74" r="3.7" fill="none" stroke="#0000ff" stroke-width="0.8"/><path d="M148.27,125.74 L151.97,125.74 A3.7,3.7 0 0 0 148.27,122.04 Z" fill="#0000ff"/><path d="M148.27,125.74 L144.57,125.74 A3.7,3.7 0 0 0 148.27,129.44 Z" fill="#0000ff"/><path d="M150.98,124.53V126.13" stroke="#0000ff" stroke-width="0.7" fill="none"/><circle cx="150.98" cy="125.33" r="3.7" fill="none" stroke="#0000ff" stroke-width="0.8"/><path d="M150.98,125.33 L154.68,125.33 A3.7,3.7 0 0 0 150.98,121.63 Z" fill="#0000ff"/><path d="M150.98,125.33 L147.28,125.33 A3.7,3.7 0 0 0 150.98,129.03 Z" fill="#0000ff"/><path d="M153.62,124.35V125.95" stroke="#0000ff" stroke-width="0.7" fill="none"/><circle cx="153.62" cy="125.15" r="3.7" fill="none" stroke="#0000ff" stroke-width="0.8"/><path d="M153.62,125.15 L157.32,125.15 A3.7,3.7 0 0 0 153.62,121.45 Z" fill="#0000ff"/><path d="M153.62,125.15 L149.92,125.15 A3.7,3.7 0 0 0 153.62,128.85 Z" fill="#0000ff"/><path d="M158.73,123.99V125.59" stroke="#0000ff" stroke-width="0.7" fill="none"/><circle cx="158.73" cy="124.79" r="3.7" fill="none" stroke="#0000ff" stroke-width="0.8"/><path d="M158.73,124.79 L162.43,124.79 A3.7,3.7 0 0 0 158.73,121.09 Z" fill="#0000ff"/><path d="M158.73,124.79 L155.03,124.79 A3.7,3.7 0 0 0 158.73,128.49 Z" fill="#0000ff"/><path d="M161.20,123.82V125.42" stroke="#0000ff" stroke-width="0.7" fill="none"/><circle cx="161.2" cy="124.62" r="3.7" fill="none" stroke="#0000ff" stroke-width="0.8"/><path d="M161.2,124.62 L164.90,124.62 A3.7,3.7 0 0 0 161.20,120.92 Z" fill="#0000ff"/><path d="M161.2,124.62 L157.50,124.62 A3.7,3.7 0 0 0 161.20,128.32 Z" fill="#0000ff"/><path d="M163.63,123.65V125.25" stroke="#0000ff" stroke-width="0.7" fill="none"/><circle cx="163.63" cy="124.45" r="3.7" fill="none" stroke="#0000ff" stroke-width="0.8"/><path d="M163.63,124.45 L167.33,124.45 A3.7,3.7 0 0 0 163.63,120.75 Z" fill="#0000ff"/><path d="M163.63,124.45 L159.93,124.45 A3.7,3.7 0 0 0 163.63,128.15 Z" fill="#0000ff"/><path d="M166.01,123.48V125.08" stroke="#0000ff" stroke-width="0.7" fill="none"/><circle cx="166.01" cy="124.28" r="3.7" fill="none" stroke="#0000ff" stroke-width="0.8"/><path d="M166.01,124.28 L169.71,124.28 A3.7,3.7 0 0 0 166.01,120.58 Z" fill="#0000ff"/><path d="M166.01,124.28 L162.31,124.28 A3.7,3.7 0 0 0 166.01,127.98 Z" fill="#0000ff"/><path d="M170.64,123.20V124.80" stroke="#0000ff" stroke-width="0.7" fill="none"/><circle cx="170.64" cy="124.0" r="3.7" fill="none" stroke="#0000ff" stroke-width="0.8"/><path d="M170.64,124.0 L174.34,124.00 A3.7,3.7 0 0 0 170.64,120.30 Z" fill="#0000ff"/><path d="M170.64,124.0 L166.94,124.00 A3.7,3.7 0 0 0 170.64,127.70 Z" fill="#0000ff"/><path d="M177.30,123.20V124.80" stroke="#0000ff" stroke-width="0.7" fill="none"/><circle cx="177.3" cy="124.0" r="3.7" fill="none" stroke="#0000ff" stroke-width="0.8"/><path d="M177.3,124.0 L181.00,124.00 A3.7,3.7 0 0 0 177.30,120.30 Z" fill="#0000ff"/><path d="M177.3,124.0 L173.60,124.00 A3.7,3.7 0 0 0 177.30,127.70 Z" fill="#0000ff"/><path d="M179.45,123.20V124.80" stroke="#0000ff" stroke-width="0.7" fill="none"/><circle cx="179.45" cy="124.0" r="3.7" fill="none" stroke="#0000ff" stroke-width="0.8"/><path d="M179.45,124.0 L183.15,124.00 A3.7,3.7 0 0 0 179.45,120.30 Z" fill="#0000ff"/><path d="M179.45,124.0 L175.75,124.00 A3.7,3.7 0 0 0 179.45,127.70 Z" fill="#0000ff"/><path d="M181.56,123.20V124.80" stroke="#0000ff" stroke-width="0.7" fill="none"/><circle cx="181.56" cy="124.0" r="3.7" fill="none" stroke="#0000ff" stroke-width="0.8"/><path d="M181.56,124.0 L185.26,124.00 A3.7,3.7 0 0 0 181.56,120.30 Z" fill="#0000ff"/><path d="M181.56,124.0 L177.86,124.00 A3.7,3.7 0 0 0 181.56,127.70 Z" fill="#0000ff"/><path d="M185.70,123.20V124.80" stroke="#0000ff" stroke-width="0.7" fill="none"/><circle cx="185.7" cy="124.0" r="3.7" fill="none" stroke="#0000ff" stroke-width="0.8"/><path d="M185.7,124.0 L189.40,124.00 A3.7,3.7 0 0 0 185.70,120.30 Z" fill="#0000ff"/><path d="M185.7,124.0 L182.00,124.00 A3.7,3.7 0 0 0 185.70,127.70 Z" fill="#0000ff"/><path d="M195.58,123.20V124.80" stroke="#0000ff" stroke-width="0.7" fill="none"/><circle cx="195.58" cy="124.0" r="3.7" fill="none" stroke="#0000ff" stroke-width="0.8"/><path d="M195.58,124.0 L199.28,124.00 A3.7,3.7 0 0 0 195.58,120.30 Z" fill="#0000ff"/><path d="M195.58,124.0 L191.88,124.00 A3.7,3.7 0 0 0 195.58,127.70 Z" fill="#0000ff"/><path d="M208.45,123.20V124.80" stroke="#0000ff" stroke-width="0.7" fill="none"/><circle cx="208.45" cy="124.0" r="3.7" fill="none" stroke="#0000ff" stroke-width="0.8"/><path d="M208.45,124.0 L212.15,124.00 A3.7,3.7 0 0 0 208.45,120.30 Z" fill="#0000ff"/><path d="M208.45,124.0 L204.75,124.00 A3.7,3.7 0 0 0 208.45,127.70 Z" fill="#0000ff"/><path d="M210.21,123.20V124.80" stroke="#0000ff" stroke-width="0.7" fill="none"/><circle cx="210.21" cy="124.0" r="3.7" fill="none" stroke="#0000ff" stroke-width="0.8"/><path d="M210.21,124.0 L213.91,124.00 A3.7,3.7 0 0 0 210.21,120.30 Z" fill="#0000ff"/><path d="M210.21,124.0 L206.51,124.00 A3.7,3.7 0 0 0 210.21,127.70 Z" fill="#0000ff"/><path d="M234.71,123.20V124.80" stroke="#0000ff" stroke-width="0.7" fill="none"/><circle cx="234.71" cy="124.0" r="3.7" fill="none" stroke="#0000ff" stroke-width="0.8"/><path d="M234.71,124.0 L238.41,124.00 A3.7,3.7 0 0 0 234.71,120.30 Z" fill="#0000ff"/><path d="M234.71,124.0 L231.01,124.00 A3.7,3.7 0 0 0 234.71,127.70 Z" fill="#0000ff"/><path d="M57.85,248.67V250.27" stroke="#0000ff" stroke-width="0.7" fill="none"/><circle cx="57.85" cy="249.47" r="3.7" fill="none" stroke="#0000ff" stroke-width="0.8"/><path d="M57.85,249.47 L57.85,253.17 A3.7,3.7 0 0 0 57.85,245.77 Z" fill="#0000ff"/><path d="M67.83,202.81V204.41" stroke="#0000ff" stroke-width="0.7" fill="none"/><circle cx="67.83" cy="203.61" r="3.7" fill="none" stroke="#0000ff" stroke-width="0.8"/><path d="M67.83,203.61 L67.83,207.31 A3.7,3.7 0 0 0 67.83,199.91 Z" fill="#0000ff"/><path d="M74.76,183.31V184.91" stroke="#0000ff" stroke-width="0.7" fill="none"/><circle cx="74.76" cy="184.11" r="3.7" fill="none" stroke="#0000ff" stroke-width="0.8"/><path d="M74.76,184.11 L74.76,187.81 A3.7,3.7 0 0 0 74.76,180.41 Z" fill="#0000ff"/><path d="M78.12,176.16V177.76" stroke="#0000ff" stroke-width="0.7" fill="none"/><circle cx="78.12" cy="176.96" r="3.7" fill="none" stroke="#0000ff" stroke-width="0.8"/><path d="M78.12,176.96 L78.12,180.66 A3.7,3.7 0 0 0 78.12,173.26 Z" fill="#0000ff"/><path d="M84.26,166.62V168.22" stroke="#0000ff" stroke-width="0.7" fill="none"/><circle cx="84.26" cy="167.42" r="3.7" fill="none" stroke="#0000ff" stroke-width="0.8"/><path d="M84.26,167.42 L84.26,171.12 A3.7,3.7 0 0 0 84.26,163.72 Z" fill="#0000ff"/><path d="M88.61,160.59V162.19" stroke="#0000ff" stroke-width="0.7" fill="none"/><circle cx="88.61" cy="161.39" r="3.7" fill="none" stroke="#0000ff" stroke-width="0.8"/><path d="M88.61,161.39 L88.61,165.09 A3.7,3.7 0 0 0 88.61,157.69 Z" fill="#0000ff"/><path d="M96.33,153.27V154.87" stroke="#0000ff" stroke-width="0.7" fill="none"/><circle cx="96.33" cy="154.07" r="3.7" fill="none" stroke="#0000ff" stroke-width="0.8"/><path d="M96.33,154.07 L96.33,157.77 A3.7,3.7 0 0 0 96.33,150.37 Z" fill="#0000ff"/><path d="M99.82,149.40V151.00" stroke="#0000ff" stroke-width="0.7" fill="none"/><circle cx="99.82" cy="150.2" r="3.7" fill="none" stroke="#0000ff" stroke-width="0.8"/><path d="M99.82,150.2 L99.82,153.90 A3.7,3.7 0 0 0 99.82,146.50 Z" fill="#0000ff"/><path d="M103.13,147.24V148.84" stroke="#0000ff" stroke-width="0.7" fill="none"/><circle cx="103.13" cy="148.04" r="3.7" fill="none" stroke="#0000ff" stroke-width="0.8"/><path d="M103.13,148.04 L103.13,151.74 A3.7,3.7 0 0 0 103.13,144.34 Z" fill="#0000ff"/><path d="M106.28,145.28V146.88" stroke="#0000ff" stroke-width="0.7" fill="none"/><circle cx="106.28" cy="146.08" r="3.7" fill="none" stroke="#0000ff" stroke-width="0.8"/><path d="M106.28,146.08 L106.28,149.78 A3.7,3.7 0 0 0 106.28,142.38 Z" fill="#0000ff"/><path d="M109.28,143.85V145.45" stroke="#0000ff" stroke-width="0.7" fill="none"/><circle cx="109.28" cy="144.65" r="3.7" fill="none" stroke="#0000ff" stroke-width="0.8"/><path d="M109.28,144.65 L109.28,148.35 A3.7,3.7 0 0 0 109.28,140.95 Z" fill="#0000ff"/><path d="M112.16,143.06V144.66" stroke="#0000ff" stroke-width="0.7" fill="none"/><circle cx="112.16" cy="143.86" r="3.7" fill="none" stroke="#0000ff" stroke-width="0.8"/><path d="M112.16,143.86 L112.16,147.56 A3.7,3.7 0 0 0 112.16,140.16 Z" fill="#0000ff"/><path d="M114.94,142.29V143.89" stroke="#0000ff" stroke-width="0.7" fill="none"/><circle cx="114.94" cy="143.09" r="3.7" fill="none" stroke="#0000ff" stroke-width="0.8"/><path d="M114.94,143.09 L114.94,146.79 A3.7,3.7 0 0 0 114.94,139.39 Z" fill="#0000ff"/><path d="M120.20,141.06V142.66" stroke="#0000ff" stroke-width="0.7" fill="none"/><circle cx="120.2" cy="141.86" r="3.7" fill="none" stroke="#0000ff" stroke-width="0.8"/><path d="M120.2,141.86 L120.20,145.56 A3.7,3.7 0 0 0 120.20,138.16 Z" fill="#0000ff"/><path d="M122.71,140.49V142.09" stroke="#0000ff" stroke-width="0.7" fill="none"/><circle cx="122.71" cy="141.29" r="3.7" fill="none" stroke="#0000ff" stroke-width="0.8"/><path d="M122.71,141.29 L122.71,144.99 A3.7,3.7 0 0 0 122.71,137.59 Z" fill="#0000ff"/><path d="M125.14,140.09V141.69" stroke="#0000ff" stroke-width="0.7" fill="none"/><circle cx="125.14" cy="140.89" r="3.7" fill="none" stroke="#0000ff" stroke-width="0.8"/><path d="M125.14,140.89 L125.14,144.59 A3.7,3.7 0 0 0 125.14,137.19 Z" fill="#0000ff"/><path d="M127.51,139.87V141.47" stroke="#0000ff" stroke-width="0.7" fill="none"/><circle cx="127.51" cy="140.67" r="3.7" fill="none" stroke="#0000ff" stroke-width="0.8"/><path d="M127.51,140.67 L127.51,144.37 A3.7,3.7 0 0 0 127.51,136.97 Z" fill="#0000ff"/><path d="M129.82,139.65V141.25" stroke="#0000ff" stroke-width="0.7" fill="none"/><circle cx="129.82" cy="140.45" r="3.7" fill="none" stroke="#0000ff" stroke-width="0.8"/><path d="M129.82,140.45 L129.82,144.15 A3.7,3.7 0 0 0 129.82,136.75 Z" fill="#0000ff"/><path d="M132.07,139.44V141.04" stroke="#0000ff" stroke-width="0.7" fill="none"/><circle cx="132.07" cy="140.24" r="3.7" fill="none" stroke="#0000ff" stroke-width="0.8"/><path d="M132.07,140.24 L132.07,143.94 A3.7,3.7 0 0 0 132.07,136.54 Z" fill="#0000ff"/><path d="M134.27,139.24V140.84" stroke="#0000ff" stroke-width="0.7" fill="none"/><circle cx="134.27" cy="140.04" r="3.7" fill="none" stroke="#0000ff" stroke-width="0.8"/><path d="M134.27,140.04 L134.27,143.74 A3.7,3.7 0 0 0 134.27,136.34 Z" fill="#0000ff"/><path d="M138.52,138.84V140.44" stroke="#0000ff" stroke-width="0.7" fill="none"/><circle cx="138.52" cy="139.64" r="3.7" fill="none" stroke="#0000ff" stroke-width="0.8"/><path d="M138.52,139.64 L138.52,143.34 A3.7,3.7 0 0 0 138.52,135.94 Z" fill="#0000ff"/><path d="M140.58,138.67V140.27" stroke="#0000ff" stroke-width="0.7" fill="none"/><circle cx="140.58" cy="139.47" r="3.7" fill="none" stroke="#0000ff" stroke-width="0.8"/><path d="M140.58,139.47 L140.58,143.17 A3.7,3.7 0 0 0 140.58,135.77 Z" fill="#0000ff"/><path d="M142.59,138.57V140.17" stroke="#0000ff" stroke-width="0.7" fill="none"/><circle cx="142.59" cy="139.37" r="3.7" fill="none" stroke="#0000ff" stroke-width="0.8"/><path d="M142.59,139.37 L142.59,143.07 A3.7,3.7 0 0 0 142.59,135.67 Z" fill="#0000ff"/><path d="M144.57,138.47V140.07" stroke="#0000ff" stroke-width="0.7" fill="none"/><circle cx="144.57" cy="139.27" r="3.7" fill="none" stroke="#0000ff" stroke-width="0.8"/><path d="M144.57,139.27 L144.57,142.97 A3.7,3.7 0 0 0 144.57,135.57 Z" fill="#0000ff"/><path d="M148.42,138.28V139.88" stroke="#0000ff" stroke-width="0.7" fill="none"/><circle cx="148.42" cy="139.08" r="3.7" fill="none" stroke="#0000ff" stroke-width="0.8"/><path d="M148.42,139.08 L148.42,142.78 A3.7,3.7 0 0 0 148.42,135.38 Z" fill="#0000ff"/><path d="M153.96,138.00V139.60" stroke="#0000ff" stroke-width="0.7" fill="none"/><circle cx="153.96" cy="138.8" r="3.7" fill="none" stroke="#0000ff" stroke-width="0.8"/><path d="M153.96,138.8 L153.96,142.50 A3.7,3.7 0 0 0 153.96,135.10 Z" fill="#0000ff"/><path d="M155.75,137.91V139.51" stroke="#0000ff" stroke-width="0.7" fill="none"/><circle cx="155.75" cy="138.71" r="3.7" fill="none" stroke="#0000ff" stroke-width="0.8"/><path d="M155.75,138.71 L155.75,142.41 A3.7,3.7 0 0 0 155.75,135.01 Z" fill="#0000ff"/><path d="M157.51,137.82V139.42" stroke="#0000ff" stroke-width="0.7" fill="none"/><circle cx="157.51" cy="138.62" r="3.7" fill="none" stroke="#0000ff" stroke-width="0.8"/><path d="M157.51,138.62 L157.51,142.32 A3.7,3.7 0 0 0 157.51,134.92 Z" fill="#0000ff"/><path d="M160.95,137.69V139.29" stroke="#0000ff" stroke-width="0.7" fill="none"/><circle cx="160.95" cy="138.49" r="3.7" fill="none" stroke="#0000ff" stroke-width="0.8"/><path d="M160.95,138.49 L160.95,142.19 A3.7,3.7 0 0 0 160.95,134.79 Z" fill="#0000ff"/><path d="M169.17,137.59V139.19" stroke="#0000ff" stroke-width="0.7" fill="none"/><circle cx="169.17" cy="138.39" r="3.7" fill="none" stroke="#0000ff" stroke-width="0.8"/><path d="M169.17,138.39 L169.17,142.09 A3.7,3.7 0 0 0 169.17,134.69 Z" fill="#0000ff"/><path d="M179.87,137.46V139.06" stroke="#0000ff" stroke-width="0.7" fill="none"/><circle cx="179.87" cy="138.26" r="3.7" fill="none" stroke="#0000ff" stroke-width="0.8"/><path d="M179.87,138.26 L179.87,141.96 A3.7,3.7 0 0 0 179.87,134.56 Z" fill="#0000ff"/><path d="M181.33,137.45V139.05" stroke="#0000ff" stroke-width="0.7" fill="none"/><circle cx="181.33" cy="138.25" r="3.7" fill="none" stroke="#0000ff" stroke-width="0.8"/><path d="M181.33,138.25 L181.33,141.95 A3.7,3.7 0 0 0 181.33,134.55 Z" fill="#0000ff"/><path d="M201.70,137.20V138.80" stroke="#0000ff" stroke-width="0.7" fill="none"/><circle cx="201.7" cy="138.0" r="3.7" fill="none" stroke="#0000ff" stroke-width="0.8"/><path d="M201.7,138.0 L201.70,141.70 A3.7,3.7 0 0 0 201.70,134.30 Z" fill="#0000ff"/></g><g><path d="M76.59,162.26V165.26" stroke="#ff0000" stroke-width="0.7" fill="none"/><rect x="72.94" y="160.11" width="7.3" height="7.3" fill="none" stroke="#ff0000" stroke-width="0.8"/><circle cx="76.59" cy="163.76" r="0.5" fill="#ff0000"/><path d="M96.34,121.34V124.34" stroke="#ff0000" stroke-width="0.7" fill="none"/><rect x="92.69" y="119.19" width="7.3" height="7.3" fill="none" stroke="#ff0000" stroke-width="0.8"/><circle cx="96.34" cy="122.84" r="0.5" fill="#ff0000"/><path d="M110.05,97.80V100.80" stroke="#ff0000" stroke-width="0.7" fill="none"/><rect x="106.40" y="95.65" width="7.3" height="7.3" fill="none" stroke="#ff0000" stroke-width="0.8"/><circle cx="110.05" cy="99.30" r="0.5" fill="#ff0000"/><path d="M116.70,89.60V92.60" stroke="#ff0000" stroke-width="0.7" fill="none"/><rect x="113.05" y="87.45" width="7.3" height="7.3" fill="none" stroke="#ff0000" stroke-width="0.8"/><circle cx="116.70" cy="91.10" r="0.5" fill="#ff0000"/><path d="M128.84,77.05V80.49" stroke="#ff0000" stroke-width="0.7" fill="none"/><rect x="125.19" y="75.12" width="7.3" height="7.3" fill="none" stroke="#ff0000" stroke-width="0.8"/><circle cx="128.84" cy="78.77" r="0.5" fill="#ff0000"/><path d="M137.44,67.71V71.59" stroke="#ff0000" stroke-width="0.7" fill="none"/><rect x="133.79" y="66.00" width="7.3" height="7.3" fill="none" stroke="#ff0000" stroke-width="0.8"/><circle cx="137.44" cy="69.65" r="0.5" fill="#ff0000"/><path d="M152.72,54.35V58.98M151.12,54.35h3.2M151.12,58.98h3.2" stroke="#ff0000" stroke-width="0.7" fill="none"/><rect x="149.07" y="53.01" width="7.3" height="7.3" fill="none" stroke="#ff0000" stroke-width="0.8"/><circle cx="152.72" cy="56.66" r="0.5" fill="#ff0000"/><path d="M159.64,49.71V54.69M158.04,49.71h3.2M158.04,54.69h3.2" stroke="#ff0000" stroke-width="0.7" fill="none"/><rect x="155.99" y="48.55" width="7.3" height="7.3" fill="none" stroke="#ff0000" stroke-width="0.8"/><circle cx="159.64" cy="52.20" r="0.5" fill="#ff0000"/><path d="M166.18,45.63V50.94M164.58,45.63h3.2M164.58,50.94h3.2" stroke="#ff0000" stroke-width="0.7" fill="none"/><rect x="162.53" y="44.64" width="7.3" height="7.3" fill="none" stroke="#ff0000" stroke-width="0.8"/><circle cx="166.18" cy="48.29" r="0.5" fill="#ff0000"/><path d="M172.40,43.25V48.87M170.80,43.25h3.2M170.80,48.87h3.2" stroke="#ff0000" stroke-width="0.7" fill="none"/><rect x="168.75" y="42.41" width="7.3" height="7.3" fill="none" stroke="#ff0000" stroke-width="0.8"/><circle cx="172.40" cy="46.06" r="0.5" fill="#ff0000"/><path d="M178.35,41.32V47.23M176.75,41.32h3.2M176.75,47.23h3.2" stroke="#ff0000" stroke-width="0.7" fill="none"/><rect x="174.70" y="40.63" width="7.3" height="7.3" fill="none" stroke="#ff0000" stroke-width="0.8"/><circle cx="178.35" cy="44.28" r="0.5" fill="#ff0000"/><path d="M184.05,38.35V44.56M182.45,38.35h3.2M182.45,44.56h3.2" stroke="#ff0000" stroke-width="0.7" fill="none"/><rect x="180.40" y="37.80" width="7.3" height="7.3" fill="none" stroke="#ff0000" stroke-width="0.8"/><circle cx="184.05" cy="41.45" r="0.5" fill="#ff0000"/><path d="M189.54,36.75V43.23M187.94,36.75h3.2M187.94,43.23h3.2" stroke="#ff0000" stroke-width="0.7" fill="none"/><rect x="185.89" y="36.34" width="7.3" height="7.3" fill="none" stroke="#ff0000" stroke-width="0.8"/><circle cx="189.54" cy="39.99" r="0.5" fill="#ff0000"/><path d="M199.95,32.71V39.31M198.35,32.71h3.2M198.35,39.31h3.2" stroke="#ff0000" stroke-width="0.7" fill="none"/><rect x="196.30" y="32.36" width="7.3" height="7.3" fill="none" stroke="#ff0000" stroke-width="0.8"/><circle cx="199.95" cy="36.01" r="0.5" fill="#ff0000"/><path d="M204.91,31.83V38.43M203.31,31.83h3.2M203.31,38.43h3.2" stroke="#ff0000" stroke-width="0.7" fill="none"/><rect x="201.26" y="31.48" width="7.3" height="7.3" fill="none" stroke="#ff0000" stroke-width="0.8"/><circle cx="204.91" cy="35.13" r="0.5" fill="#ff0000"/><path d="M209.73,30.57V37.17M208.13,30.57h3.2M208.13,37.17h3.2" stroke="#ff0000" stroke-width="0.7" fill="none"/><rect x="206.08" y="30.22" width="7.3" height="7.3" fill="none" stroke="#ff0000" stroke-width="0.8"/><circle cx="209.73" cy="33.87" r="0.5" fill="#ff0000"/><path d="M214.42,30.28V36.88M212.82,30.28h3.2M212.82,36.88h3.2" stroke="#ff0000" stroke-width="0.7" fill="none"/><rect x="210.77" y="29.93" width="7.3" height="7.3" fill="none" stroke="#ff0000" stroke-width="0.8"/><circle cx="214.42" cy="33.58" r="0.5" fill="#ff0000"/><path d="M218.98,29.73V36.33M217.38,29.73h3.2M217.38,36.33h3.2" stroke="#ff0000" stroke-width="0.7" fill="none"/><rect x="215.33" y="29.38" width="7.3" height="7.3" fill="none" stroke="#ff0000" stroke-width="0.8"/><circle cx="218.98" cy="33.03" r="0.5" fill="#ff0000"/><path d="M223.44,28.74V35.34M221.84,28.74h3.2M221.84,35.34h3.2" stroke="#ff0000" stroke-width="0.7" fill="none"/><rect x="219.79" y="28.39" width="7.3" height="7.3" fill="none" stroke="#ff0000" stroke-width="0.8"/><circle cx="223.44" cy="32.04" r="0.5" fill="#ff0000"/><path d="M227.78,28.27V34.87M226.18,28.27h3.2M226.18,34.87h3.2" stroke="#ff0000" stroke-width="0.7" fill="none"/><rect x="224.13" y="27.92" width="7.3" height="7.3" fill="none" stroke="#ff0000" stroke-width="0.8"/><circle cx="227.78" cy="31.57" r="0.5" fill="#ff0000"/><path d="M236.19,26.36V32.96M234.59,26.36h3.2M234.59,32.96h3.2" stroke="#ff0000" stroke-width="0.7" fill="none"/><rect x="232.54" y="26.01" width="7.3" height="7.3" fill="none" stroke="#ff0000" stroke-width="0.8"/><circle cx="236.19" cy="29.66" r="0.5" fill="#ff0000"/><path d="M240.26,25.44V32.04M238.66,25.44h3.2M238.66,32.04h3.2" stroke="#ff0000" stroke-width="0.7" fill="none"/><rect x="236.61" y="25.09" width="7.3" height="7.3" fill="none" stroke="#ff0000" stroke-width="0.8"/><circle cx="240.26" cy="28.74" r="0.5" fill="#ff0000"/><path d="M244.26,25.82V32.42M242.66,25.82h3.2M242.66,32.42h3.2" stroke="#ff0000" stroke-width="0.7" fill="none"/><rect x="240.61" y="25.47" width="7.3" height="7.3" fill="none" stroke="#ff0000" stroke-width="0.8"/><circle cx="244.26" cy="29.12" r="0.5" fill="#ff0000"/><path d="M248.17,25.35V31.95M246.57,25.35h3.2M246.57,31.95h3.2" stroke="#ff0000" stroke-width="0.7" fill="none"/><rect x="244.52" y="25.00" width="7.3" height="7.3" fill="none" stroke="#ff0000" stroke-width="0.8"/><circle cx="248.17" cy="28.65" r="0.5" fill="#ff0000"/><path d="M255.79,24.26V30.86M254.19,24.26h3.2M254.19,30.86h3.2" stroke="#ff0000" stroke-width="0.7" fill="none"/><rect x="252.14" y="23.91" width="7.3" height="7.3" fill="none" stroke="#ff0000" stroke-width="0.8"/><circle cx="255.79" cy="27.56" r="0.5" fill="#ff0000"/><path d="M266.74,23.40V30.00M265.14,23.40h3.2M265.14,30.00h3.2" stroke="#ff0000" stroke-width="0.7" fill="none"/><rect x="263.09" y="23.05" width="7.3" height="7.3" fill="none" stroke="#ff0000" stroke-width="0.8"/><circle cx="266.74" cy="26.70" r="0.5" fill="#ff0000"/><path d="M270.28,24.06V30.66M268.68,24.06h3.2M268.68,30.66h3.2" stroke="#ff0000" stroke-width="0.7" fill="none"/><rect x="266.63" y="23.71" width="7.3" height="7.3" fill="none" stroke="#ff0000" stroke-width="0.8"/><circle cx="270.28" cy="27.36" r="0.5" fill="#ff0000"/><path d="M273.76,23.59V30.19M272.16,23.59h3.2M272.16,30.19h3.2" stroke="#ff0000" stroke-width="0.7" fill="none"/><rect x="270.11" y="23.24" width="7.3" height="7.3" fill="none" stroke="#ff0000" stroke-width="0.8"/><circle cx="273.76" cy="26.89" r="0.5" fill="#ff0000"/><path d="M277.19,23.76V30.36M275.59,23.76h3.2M275.59,30.36h3.2" stroke="#ff0000" stroke-width="0.7" fill="none"/><rect x="273.54" y="23.41" width="7.3" height="7.3" fill="none" stroke="#ff0000" stroke-width="0.8"/><circle cx="277.19" cy="27.06" r="0.5" fill="#ff0000"/><path d="M280.58,23.84V30.44M278.98,23.84h3.2M278.98,30.44h3.2" stroke="#ff0000" stroke-width="0.7" fill="none"/><rect x="276.93" y="23.49" width="7.3" height="7.3" fill="none" stroke="#ff0000" stroke-width="0.8"/><circle cx="280.58" cy="27.14" r="0.5" fill="#ff0000"/><path d="M296.83,23.32V29.92M295.23,23.32h3.2M295.23,29.92h3.2" stroke="#ff0000" stroke-width="0.7" fill="none"/><rect x="293.18" y="22.97" width="7.3" height="7.3" fill="none" stroke="#ff0000" stroke-width="0.8"/><circle cx="296.83" cy="26.62" r="0.5" fill="#ff0000"/><path d="M318.00,23.26V29.86M316.40,23.26h3.2M316.40,29.86h3.2" stroke="#ff0000" stroke-width="0.7" fill="none"/><rect x="314.35" y="22.91" width="7.3" height="7.3" fill="none" stroke="#ff0000" stroke-width="0.8"/><circle cx="318.00" cy="26.56" r="0.5" fill="#ff0000"/><path d="M320.89,22.70V29.30M319.29,22.70h3.2M319.29,29.30h3.2" stroke="#ff0000" stroke-width="0.7" fill="none"/><rect x="317.24" y="22.35" width="7.3" height="7.3" fill="none" stroke="#ff0000" stroke-width="0.8"/><circle cx="320.89" cy="26.00" r="0.5" fill="#ff0000"/><path d="M361.20,22.60V29.20M359.60,22.60h3.2M359.60,29.20h3.2" stroke="#ff0000" stroke-width="0.7" fill="none"/><rect x="357.55" y="22.25" width="7.3" height="7.3" fill="none" stroke="#ff0000" stroke-width="0.8"/><circle cx="361.20" cy="25.90" r="0.5" fill="#ff0000"/><path d="M75.79,168.97V173.37M74.19,168.97h3.2M74.19,173.37h3.2" stroke="#ff0000" stroke-width="0.7" fill="none"/><circle cx="75.79" cy="171.17" r="3.7" fill="none" stroke="#ff0000" stroke-width="0.8"/><circle cx="75.79" cy="171.17" r="0.5" fill="#ff0000"/><path d="M95.12,126.90V131.30M93.52,126.90h3.2M93.52,131.30h3.2" stroke="#ff0000" stroke-width="0.7" fill="none"/><circle cx="95.12" cy="129.1" r="3.7" fill="none" stroke="#ff0000" stroke-width="0.8"/><circle cx="95.12" cy="129.10" r="0.5" fill="#ff0000"/><path d="M108.54,107.02V111.42M106.94,107.02h3.2M106.94,111.42h3.2" stroke="#ff0000" stroke-width="0.7" fill="none"/><circle cx="108.54" cy="109.22" r="3.7" fill="none" stroke="#ff0000" stroke-width="0.8"/><circle cx="108.54" cy="109.22" r="0.5" fill="#ff0000"/><path d="M115.05,96.91V101.31M113.45,96.91h3.2M113.45,101.31h3.2" stroke="#ff0000" stroke-width="0.7" fill="none"/><circle cx="115.05" cy="99.11" r="3.7" fill="none" stroke="#ff0000" stroke-width="0.8"/><circle cx="115.05" cy="99.11" r="0.5" fill="#ff0000"/><path d="M126.93,82.51V87.42M125.33,82.51h3.2M125.33,87.42h3.2" stroke="#ff0000" stroke-width="0.7" fill="none"/><circle cx="126.93" cy="84.97" r="3.7" fill="none" stroke="#ff0000" stroke-width="0.8"/><circle cx="126.93" cy="84.97" r="0.5" fill="#ff0000"/><path d="M135.35,75.57V81.10M133.75,75.57h3.2M133.75,81.10h3.2" stroke="#ff0000" stroke-width="0.7" fill="none"/><circle cx="135.35" cy="78.34" r="3.7" fill="none" stroke="#ff0000" stroke-width="0.8"/><circle cx="135.35" cy="78.34" r="0.5" fill="#ff0000"/><path d="M150.30,65.39V72.01M148.70,65.39h3.2M148.70,72.01h3.2" stroke="#ff0000" stroke-width="0.7" fill="none"/><circle cx="150.3" cy="68.7" r="3.7" fill="none" stroke="#ff0000" stroke-width="0.8"/><circle cx="150.30" cy="68.70" r="0.5" fill="#ff0000"/><path d="M157.07,60.11V67.23M155.47,60.11h3.2M155.47,67.23h3.2" stroke="#ff0000" stroke-width="0.7" fill="none"/><circle cx="157.07" cy="63.67" r="3.7" fill="none" stroke="#ff0000" stroke-width="0.8"/><circle cx="157.07" cy="63.67" r="0.5" fill="#ff0000"/><path d="M163.48,57.91V65.50M161.88,57.91h3.2M161.88,65.50h3.2" stroke="#ff0000" stroke-width="0.7" fill="none"/><circle cx="163.48" cy="61.71" r="3.7" fill="none" stroke="#ff0000" stroke-width="0.8"/><circle cx="163.48" cy="61.71" r="0.5" fill="#ff0000"/><path d="M169.57,53.74V61.78M167.97,53.74h3.2M167.97,61.78h3.2" stroke="#ff0000" stroke-width="0.7" fill="none"/><circle cx="169.57" cy="57.76" r="3.7" fill="none" stroke="#ff0000" stroke-width="0.8"/><circle cx="169.57" cy="57.76" r="0.5" fill="#ff0000"/><path d="M175.39,51.30V59.76M173.79,51.30h3.2M173.79,59.76h3.2" stroke="#ff0000" stroke-width="0.7" fill="none"/><circle cx="175.39" cy="55.53" r="3.7" fill="none" stroke="#ff0000" stroke-width="0.8"/><circle cx="175.39" cy="55.53" r="0.5" fill="#ff0000"/><path d="M180.97,49.66V58.53M179.37,49.66h3.2M179.37,58.53h3.2" stroke="#ff0000" stroke-width="0.7" fill="none"/><circle cx="180.97" cy="54.09" r="3.7" fill="none" stroke="#ff0000" stroke-width="0.8"/><circle cx="180.97" cy="54.09" r="0.5" fill="#ff0000"/><path d="M186.34,47.96V57.23M184.74,47.96h3.2M184.74,57.23h3.2" stroke="#ff0000" stroke-width="0.7" fill="none"/><circle cx="186.34" cy="52.59" r="3.7" fill="none" stroke="#ff0000" stroke-width="0.8"/><circle cx="186.34" cy="52.59" r="0.5" fill="#ff0000"/><path d="M196.53,44.63V54.64M194.93,44.63h3.2M194.93,54.64h3.2" stroke="#ff0000" stroke-width="0.7" fill="none"/><circle cx="196.53" cy="49.64" r="3.7" fill="none" stroke="#ff0000" stroke-width="0.8"/><circle cx="196.53" cy="49.64" r="0.5" fill="#ff0000"/><path d="M201.39,43.52V53.88M199.79,43.52h3.2M199.79,53.88h3.2" stroke="#ff0000" stroke-width="0.7" fill="none"/><circle cx="201.39" cy="48.7" r="3.7" fill="none" stroke="#ff0000" stroke-width="0.8"/><circle cx="201.39" cy="48.70" r="0.5" fill="#ff0000"/><path d="M206.11,43.07V53.79M204.51,43.07h3.2M204.51,53.79h3.2" stroke="#ff0000" stroke-width="0.7" fill="none"/><circle cx="206.11" cy="48.43" r="3.7" fill="none" stroke="#ff0000" stroke-width="0.8"/><circle cx="206.11" cy="48.43" r="0.5" fill="#ff0000"/><path d="M210.70,42.05V53.05M209.10,42.05h3.2M209.10,53.05h3.2" stroke="#ff0000" stroke-width="0.7" fill="none"/><circle cx="210.7" cy="47.55" r="3.7" fill="none" stroke="#ff0000" stroke-width="0.8"/><circle cx="210.70" cy="47.55" r="0.5" fill="#ff0000"/><path d="M215.16,41.62V52.62M213.56,41.62h3.2M213.56,52.62h3.2" stroke="#ff0000" stroke-width="0.7" fill="none"/><circle cx="215.16" cy="47.12" r="3.7" fill="none" stroke="#ff0000" stroke-width="0.8"/><circle cx="215.16" cy="47.12" r="0.5" fill="#ff0000"/><path d="M219.52,41.33V52.33M217.92,41.33h3.2M217.92,52.33h3.2" stroke="#ff0000" stroke-width="0.7" fill="none"/><circle cx="219.52" cy="46.83" r="3.7" fill="none" stroke="#ff0000" stroke-width="0.8"/><circle cx="219.52" cy="46.83" r="0.5" fill="#ff0000"/><path d="M223.78,41.25V52.25M222.18,41.25h3.2M222.18,52.25h3.2" stroke="#ff0000" stroke-width="0.7" fill="none"/><circle cx="223.78" cy="46.75" r="3.7" fill="none" stroke="#ff0000" stroke-width="0.8"/><circle cx="223.78" cy="46.75" r="0.5" fill="#ff0000"/><path d="M232.01,39.07V50.07M230.41,39.07h3.2M230.41,50.07h3.2" stroke="#ff0000" stroke-width="0.7" fill="none"/><circle cx="232.01" cy="44.57" r="3.7" fill="none" stroke="#ff0000" stroke-width="0.8"/><circle cx="232.01" cy="44.57" r="0.5" fill="#ff0000"/><path d="M235.99,38.49V49.49M234.39,38.49h3.2M234.39,49.49h3.2" stroke="#ff0000" stroke-width="0.7" fill="none"/><circle cx="235.99" cy="43.99" r="3.7" fill="none" stroke="#ff0000" stroke-width="0.8"/><circle cx="235.99" cy="43.99" r="0.5" fill="#ff0000"/><path d="M239.90,39.12V50.12M238.30,39.12h3.2M238.30,50.12h3.2" stroke="#ff0000" stroke-width="0.7" fill="none"/><circle cx="239.9" cy="44.62" r="3.7" fill="none" stroke="#ff0000" stroke-width="0.8"/><circle cx="239.90" cy="44.62" r="0.5" fill="#ff0000"/><path d="M243.73,39.12V50.12M242.13,39.12h3.2M242.13,50.12h3.2" stroke="#ff0000" stroke-width="0.7" fill="none"/><circle cx="243.73" cy="44.62" r="3.7" fill="none" stroke="#ff0000" stroke-width="0.8"/><circle cx="243.73" cy="44.62" r="0.5" fill="#ff0000"/><path d="M251.19,38.63V49.63M249.59,38.63h3.2M249.59,49.63h3.2" stroke="#ff0000" stroke-width="0.7" fill="none"/><circle cx="251.19" cy="44.13" r="3.7" fill="none" stroke="#ff0000" stroke-width="0.8"/><circle cx="251.19" cy="44.13" r="0.5" fill="#ff0000"/><path d="M261.91,37.56V48.56M260.31,37.56h3.2M260.31,48.56h3.2" stroke="#ff0000" stroke-width="0.7" fill="none"/><circle cx="261.91" cy="43.06" r="3.7" fill="none" stroke="#ff0000" stroke-width="0.8"/><circle cx="261.91" cy="43.06" r="0.5" fill="#ff0000"/><path d="M265.37,37.68V48.68M263.77,37.68h3.2M263.77,48.68h3.2" stroke="#ff0000" stroke-width="0.7" fill="none"/><circle cx="265.37" cy="43.18" r="3.7" fill="none" stroke="#ff0000" stroke-width="0.8"/><circle cx="265.37" cy="43.18" r="0.5" fill="#ff0000"/><path d="M268.78,37.16V48.16M267.18,37.16h3.2M267.18,48.16h3.2" stroke="#ff0000" stroke-width="0.7" fill="none"/><circle cx="268.78" cy="42.66" r="3.7" fill="none" stroke="#ff0000" stroke-width="0.8"/><circle cx="268.78" cy="42.66" r="0.5" fill="#ff0000"/><path d="M275.45,37.72V48.72M273.85,37.72h3.2M273.85,48.72h3.2" stroke="#ff0000" stroke-width="0.7" fill="none"/><circle cx="275.45" cy="43.22" r="3.7" fill="none" stroke="#ff0000" stroke-width="0.8"/><circle cx="275.45" cy="43.22" r="0.5" fill="#ff0000"/><path d="M291.36,37.07V48.07M289.76,37.07h3.2M289.76,48.07h3.2" stroke="#ff0000" stroke-width="0.7" fill="none"/><circle cx="291.36" cy="42.57" r="3.7" fill="none" stroke="#ff0000" stroke-width="0.8"/><circle cx="291.36" cy="42.57" r="0.5" fill="#ff0000"/><path d="M312.08,36.31V47.31M310.48,36.31h3.2M310.48,47.31h3.2" stroke="#ff0000" stroke-width="0.7" fill="none"/><circle cx="312.08" cy="41.81" r="3.7" fill="none" stroke="#ff0000" stroke-width="0.8"/><circle cx="312.08" cy="41.81" r="0.5" fill="#ff0000"/><path d="M314.91,36.05V47.05M313.31,36.05h3.2M313.31,47.05h3.2" stroke="#ff0000" stroke-width="0.7" fill="none"/><circle cx="314.91" cy="41.55" r="3.7" fill="none" stroke="#ff0000" stroke-width="0.8"/><circle cx="314.91" cy="41.55" r="0.5" fill="#ff0000"/><path d="M354.37,36.55V47.55M352.77,36.55h3.2M352.77,47.55h3.2" stroke="#ff0000" stroke-width="0.7" fill="none"/><circle cx="354.37" cy="42.05" r="3.7" fill="none" stroke="#ff0000" stroke-width="0.8"/><circle cx="354.37" cy="42.05" r="0.5" fill="#ff0000"/><path d="M74.33,174.80V177.44" stroke="#ff0000" stroke-width="0.7" fill="none"/><polygon points="74.33,173.02 70.73,179.02 77.93,179.02" fill="none" stroke="#ff0000" stroke-width="0.8"/><circle cx="74.33" cy="176.12" r="0.5" fill="#ff0000"/><path d="M92.91,132.66V135.30" stroke="#ff0000" stroke-width="0.7" fill="none"/><polygon points="92.91,130.88 89.31,136.88 96.51,136.88" fill="none" stroke="#ff0000" stroke-width="0.8"/><circle cx="92.91" cy="133.98" r="0.5" fill="#ff0000"/><path d="M105.80,114.55V117.19" stroke="#ff0000" stroke-width="0.7" fill="none"/><polygon points="105.80,112.77 102.20,118.77 109.40,118.77" fill="none" stroke="#ff0000" stroke-width="0.8"/><circle cx="105.80" cy="115.87" r="0.5" fill="#ff0000"/><path d="M112.05,106.35V108.99" stroke="#ff0000" stroke-width="0.7" fill="none"/><polygon points="112.05,104.57 108.45,110.57 115.65,110.57" fill="none" stroke="#ff0000" stroke-width="0.8"/><circle cx="112.05" cy="107.67" r="0.5" fill="#ff0000"/><path d="M123.47,97.45V100.09" stroke="#ff0000" stroke-width="0.7" fill="none"/><polygon points="123.47,95.67 119.87,101.67 127.07,101.67" fill="none" stroke="#ff0000" stroke-width="0.8"/><circle cx="123.47" cy="98.77" r="0.5" fill="#ff0000"/><path d="M131.56,91.62V94.26" stroke="#ff0000" stroke-width="0.7" fill="none"/><polygon points="131.56,89.84 127.96,95.84 135.16,95.84" fill="none" stroke="#ff0000" stroke-width="0.8"/><circle cx="131.56" cy="92.94" r="0.5" fill="#ff0000"/><path d="M145.92,83.90V86.54" stroke="#ff0000" stroke-width="0.7" fill="none"/><polygon points="145.92,82.12 142.32,88.12 149.52,88.12" fill="none" stroke="#ff0000" stroke-width="0.8"/><circle cx="145.92" cy="85.22" r="0.5" fill="#ff0000"/><path d="M152.43,81.20V83.84" stroke="#ff0000" stroke-width="0.7" fill="none"/><polygon points="152.43,79.42 148.83,85.42 156.03,85.42" fill="none" stroke="#ff0000" stroke-width="0.8"/><circle cx="152.43" cy="82.52" r="0.5" fill="#ff0000"/><path d="M158.58,78.42V81.06" stroke="#ff0000" stroke-width="0.7" fill="none"/><polygon points="158.58,76.64 154.98,82.64 162.18,82.64" fill="none" stroke="#ff0000" stroke-width="0.8"/><circle cx="158.58" cy="79.74" r="0.5" fill="#ff0000"/><path d="M164.43,77.18V79.82" stroke="#ff0000" stroke-width="0.7" fill="none"/><polygon points="164.43,75.40 160.83,81.40 168.03,81.40" fill="none" stroke="#ff0000" stroke-width="0.8"/><circle cx="164.43" cy="78.50" r="0.5" fill="#ff0000"/><path d="M170.02,75.12V77.76" stroke="#ff0000" stroke-width="0.7" fill="none"/><polygon points="170.02,73.34 166.42,79.34 173.62,79.34" fill="none" stroke="#ff0000" stroke-width="0.8"/><circle cx="170.02" cy="76.44" r="0.5" fill="#ff0000"/><path d="M175.39,74.72V77.36" stroke="#ff0000" stroke-width="0.7" fill="none"/><polygon points="175.39,72.94 171.79,78.94 178.99,78.94" fill="none" stroke="#ff0000" stroke-width="0.8"/><circle cx="175.39" cy="76.04" r="0.5" fill="#ff0000"/><path d="M180.55,73.26V75.90" stroke="#ff0000" stroke-width="0.7" fill="none"/><polygon points="180.55,71.48 176.95,77.48 184.15,77.48" fill="none" stroke="#ff0000" stroke-width="0.8"/><circle cx="180.55" cy="74.58" r="0.5" fill="#ff0000"/><path d="M190.34,71.12V73.76" stroke="#ff0000" stroke-width="0.7" fill="none"/><polygon points="190.34,69.34 186.74,75.34 193.94,75.34" fill="none" stroke="#ff0000" stroke-width="0.8"/><circle cx="190.34" cy="72.44" r="0.5" fill="#ff0000"/><path d="M195.01,70.71V73.35" stroke="#ff0000" stroke-width="0.7" fill="none"/><polygon points="195.01,68.93 191.41,74.93 198.61,74.93" fill="none" stroke="#ff0000" stroke-width="0.8"/><circle cx="195.01" cy="72.03" r="0.5" fill="#ff0000"/><path d="M199.54,69.71V72.35" stroke="#ff0000" stroke-width="0.7" fill="none"/><polygon points="199.54,67.93 195.94,73.93 203.14,73.93" fill="none" stroke="#ff0000" stroke-width="0.8"/><circle cx="199.54" cy="71.03" r="0.5" fill="#ff0000"/><path d="M203.95,69.84V72.48" stroke="#ff0000" stroke-width="0.7" fill="none"/><polygon points="203.95,68.06 200.35,74.06 207.55,74.06" fill="none" stroke="#ff0000" stroke-width="0.8"/><circle cx="203.95" cy="71.16" r="0.5" fill="#ff0000"/><path d="M208.24,68.80V71.44" stroke="#ff0000" stroke-width="0.7" fill="none"/><polygon points="208.24,67.02 204.64,73.02 211.84,73.02" fill="none" stroke="#ff0000" stroke-width="0.8"/><circle cx="208.24" cy="70.12" r="0.5" fill="#ff0000"/><path d="M212.43,68.23V70.87" stroke="#ff0000" stroke-width="0.7" fill="none"/><polygon points="212.43,66.45 208.83,72.45 216.03,72.45" fill="none" stroke="#ff0000" stroke-width="0.8"/><circle cx="212.43" cy="69.55" r="0.5" fill="#ff0000"/><path d="M216.52,68.49V71.13" stroke="#ff0000" stroke-width="0.7" fill="none"/><polygon points="216.52,66.71 212.92,72.71 220.12,72.71" fill="none" stroke="#ff0000" stroke-width="0.8"/><circle cx="216.52" cy="69.81" r="0.5" fill="#ff0000"/><path d="M224.42,67.49V70.13" stroke="#ff0000" stroke-width="0.7" fill="none"/><polygon points="224.42,65.71 220.82,71.71 228.02,71.71" fill="none" stroke="#ff0000" stroke-width="0.8"/><circle cx="224.42" cy="68.81" r="0.5" fill="#ff0000"/><path d="M228.25,67.59V70.23" stroke="#ff0000" stroke-width="0.7" fill="none"/><polygon points="228.25,65.81 224.65,71.81 231.85,71.81" fill="none" stroke="#ff0000" stroke-width="0.8"/><circle cx="228.25" cy="68.91" r="0.5" fill="#ff0000"/><path d="M232.01,67.75V70.39" stroke="#ff0000" stroke-width="0.7" fill="none"/><polygon points="232.01,65.97 228.41,71.97 235.61,71.97" fill="none" stroke="#ff0000" stroke-width="0.8"/><circle cx="232.01" cy="69.07" r="0.5" fill="#ff0000"/><path d="M235.69,67.89V70.53" stroke="#ff0000" stroke-width="0.7" fill="none"/><polygon points="235.69,66.11 232.09,72.11 239.29,72.11" fill="none" stroke="#ff0000" stroke-width="0.8"/><circle cx="235.69" cy="69.21" r="0.5" fill="#ff0000"/><path d="M242.85,67.30V69.94" stroke="#ff0000" stroke-width="0.7" fill="none"/><polygon points="242.85,65.52 239.25,71.52 246.45,71.52" fill="none" stroke="#ff0000" stroke-width="0.8"/><circle cx="242.85" cy="68.62" r="0.5" fill="#ff0000"/><path d="M253.15,66.72V69.36" stroke="#ff0000" stroke-width="0.7" fill="none"/><polygon points="253.15,64.94 249.55,70.94 256.75,70.94" fill="none" stroke="#ff0000" stroke-width="0.8"/><circle cx="253.15" cy="68.04" r="0.5" fill="#ff0000"/><path d="M256.48,67.49V70.13" stroke="#ff0000" stroke-width="0.7" fill="none"/><polygon points="256.48,65.71 252.88,71.71 260.08,71.71" fill="none" stroke="#ff0000" stroke-width="0.8"/><circle cx="256.48" cy="68.81" r="0.5" fill="#ff0000"/><path d="M259.75,66.89V69.53" stroke="#ff0000" stroke-width="0.7" fill="none"/><polygon points="259.75,65.11 256.15,71.11 263.35,71.11" fill="none" stroke="#ff0000" stroke-width="0.8"/><circle cx="259.75" cy="68.21" r="0.5" fill="#ff0000"/><path d="M266.16,67.44V70.08" stroke="#ff0000" stroke-width="0.7" fill="none"/><polygon points="266.16,65.66 262.56,71.66 269.76,71.66" fill="none" stroke="#ff0000" stroke-width="0.8"/><circle cx="266.16" cy="68.76" r="0.5" fill="#ff0000"/><path d="M281.45,67.07V69.71" stroke="#ff0000" stroke-width="0.7" fill="none"/><polygon points="281.45,65.29 277.85,71.29 285.05,71.29" fill="none" stroke="#ff0000" stroke-width="0.8"/><circle cx="281.45" cy="68.39" r="0.5" fill="#ff0000"/><path d="M301.35,66.36V69.00" stroke="#ff0000" stroke-width="0.7" fill="none"/><polygon points="301.35,64.58 297.75,70.58 304.95,70.58" fill="none" stroke="#ff0000" stroke-width="0.8"/><circle cx="301.35" cy="67.68" r="0.5" fill="#ff0000"/><path d="M304.07,66.44V69.08" stroke="#ff0000" stroke-width="0.7" fill="none"/><polygon points="304.07,64.66 300.47,70.66 307.67,70.66" fill="none" stroke="#ff0000" stroke-width="0.8"/><circle cx="304.07" cy="67.76" r="0.5" fill="#ff0000"/><path d="M341.99,66.50V69.14" stroke="#ff0000" stroke-width="0.7" fill="none"/><polygon points="341.99,64.72 338.39,70.72 345.59,70.72" fill="none" stroke="#ff0000" stroke-width="0.8"/><circle cx="341.99" cy="67.82" r="0.5" fill="#ff0000"/><path d="M72.84,178.93V181.57" stroke="#ff0000" stroke-width="0.7" fill="none"/><polygon points="72.84,183.35 69.24,177.35 76.44,177.35" fill="none" stroke="#ff0000" stroke-width="0.8"/><circle cx="72.84" cy="180.25" r="0.5" fill="#ff0000"/><path d="M90.64,138.13V140.77" stroke="#ff0000" stroke-width="0.7" fill="none"/><polygon points="90.64,142.55 87.04,136.55 94.24,136.55" fill="none" stroke="#ff0000" stroke-width="0.8"/><circle cx="90.64" cy="139.45" r="0.5" fill="#ff0000"/><path d="M102.99,123.55V126.19" stroke="#ff0000" stroke-width="0.7" fill="none"/><polygon points="102.99,127.97 99.39,121.97 106.59,121.97" fill="none" stroke="#ff0000" stroke-width="0.8"/><circle cx="102.99" cy="124.87" r="0.5" fill="#ff0000"/><path d="M108.98,117.00V119.64" stroke="#ff0000" stroke-width="0.7" fill="none"/><polygon points="108.98,121.42 105.38,115.42 112.58,115.42" fill="none" stroke="#ff0000" stroke-width="0.8"/><circle cx="108.98" cy="118.32" r="0.5" fill="#ff0000"/><path d="M119.91,107.40V110.04" stroke="#ff0000" stroke-width="0.7" fill="none"/><polygon points="119.91,111.82 116.31,105.82 123.51,105.82" fill="none" stroke="#ff0000" stroke-width="0.8"/><circle cx="119.91" cy="108.72" r="0.5" fill="#ff0000"/><path d="M127.67,102.83V105.47" stroke="#ff0000" stroke-width="0.7" fill="none"/><polygon points="127.67,107.25 124.07,101.25 131.27,101.25" fill="none" stroke="#ff0000" stroke-width="0.8"/><circle cx="127.67" cy="104.15" r="0.5" fill="#ff0000"/><path d="M141.43,95.35V97.99" stroke="#ff0000" stroke-width="0.7" fill="none"/><polygon points="141.43,99.77 137.83,93.77 145.03,93.77" fill="none" stroke="#ff0000" stroke-width="0.8"/><circle cx="141.43" cy="96.67" r="0.5" fill="#ff0000"/><path d="M147.66,92.47V95.11" stroke="#ff0000" stroke-width="0.7" fill="none"/><polygon points="147.66,96.89 144.06,90.89 151.26,90.89" fill="none" stroke="#ff0000" stroke-width="0.8"/><circle cx="147.66" cy="93.79" r="0.5" fill="#ff0000"/><path d="M153.56,90.16V92.80" stroke="#ff0000" stroke-width="0.7" fill="none"/><polygon points="153.56,94.58 149.96,88.58 157.16,88.58" fill="none" stroke="#ff0000" stroke-width="0.8"/><circle cx="153.56" cy="91.48" r="0.5" fill="#ff0000"/><path d="M159.16,88.84V91.48" stroke="#ff0000" stroke-width="0.7" fill="none"/><polygon points="159.16,93.26 155.56,87.26 162.76,87.26" fill="none" stroke="#ff0000" stroke-width="0.8"/><circle cx="159.16" cy="90.16" r="0.5" fill="#ff0000"/><path d="M164.52,88.18V90.82" stroke="#ff0000" stroke-width="0.7" fill="none"/><polygon points="164.52,92.60 160.92,86.60 168.12,86.60" fill="none" stroke="#ff0000" stroke-width="0.8"/><circle cx="164.52" cy="89.50" r="0.5" fill="#ff0000"/><path d="M169.66,86.67V89.31" stroke="#ff0000" stroke-width="0.7" fill="none"/><polygon points="169.66,91.09 166.06,85.09 173.26,85.09" fill="none" stroke="#ff0000" stroke-width="0.8"/><circle cx="169.66" cy="87.99" r="0.5" fill="#ff0000"/><path d="M174.60,86.22V88.86" stroke="#ff0000" stroke-width="0.7" fill="none"/><polygon points="174.60,90.64 171.00,84.64 178.20,84.64" fill="none" stroke="#ff0000" stroke-width="0.8"/><circle cx="174.60" cy="87.54" r="0.5" fill="#ff0000"/><path d="M183.98,84.59V87.23" stroke="#ff0000" stroke-width="0.7" fill="none"/><polygon points="183.98,89.01 180.38,83.01 187.58,83.01" fill="none" stroke="#ff0000" stroke-width="0.8"/><circle cx="183.98" cy="85.91" r="0.5" fill="#ff0000"/><path d="M188.46,84.68V87.32" stroke="#ff0000" stroke-width="0.7" fill="none"/><polygon points="188.46,89.10 184.86,83.10 192.06,83.10" fill="none" stroke="#ff0000" stroke-width="0.8"/><circle cx="188.46" cy="86.00" r="0.5" fill="#ff0000"/><path d="M192.80,84.49V87.13" stroke="#ff0000" stroke-width="0.7" fill="none"/><polygon points="192.80,88.91 189.20,82.91 196.40,82.91" fill="none" stroke="#ff0000" stroke-width="0.8"/><circle cx="192.80" cy="85.81" r="0.5" fill="#ff0000"/><path d="M197.02,83.59V86.23" stroke="#ff0000" stroke-width="0.7" fill="none"/><polygon points="197.02,88.01 193.42,82.01 200.62,82.01" fill="none" stroke="#ff0000" stroke-width="0.8"/><circle cx="197.02" cy="84.91" r="0.5" fill="#ff0000"/><path d="M201.13,83.85V86.49" stroke="#ff0000" stroke-width="0.7" fill="none"/><polygon points="201.13,88.27 197.53,82.27 204.73,82.27" fill="none" stroke="#ff0000" stroke-width="0.8"/><circle cx="201.13" cy="85.17" r="0.5" fill="#ff0000"/><path d="M205.15,83.54V86.18" stroke="#ff0000" stroke-width="0.7" fill="none"/><polygon points="205.15,87.96 201.55,81.96 208.75,81.96" fill="none" stroke="#ff0000" stroke-width="0.8"/><circle cx="205.15" cy="84.86" r="0.5" fill="#ff0000"/><path d="M209.06,82.65V85.29" stroke="#ff0000" stroke-width="0.7" fill="none"/><polygon points="209.06,87.07 205.46,81.07 212.66,81.07" fill="none" stroke="#ff0000" stroke-width="0.8"/><circle cx="209.06" cy="83.97" r="0.5" fill="#ff0000"/><path d="M216.64,82.58V85.22" stroke="#ff0000" stroke-width="0.7" fill="none"/><polygon points="216.64,87.00 213.04,81.00 220.24,81.00" fill="none" stroke="#ff0000" stroke-width="0.8"/><circle cx="216.64" cy="83.90" r="0.5" fill="#ff0000"/><path d="M220.31,82.18V84.82" stroke="#ff0000" stroke-width="0.7" fill="none"/><polygon points="220.31,86.60 216.71,80.60 223.91,80.60" fill="none" stroke="#ff0000" stroke-width="0.8"/><circle cx="220.31" cy="83.50" r="0.5" fill="#ff0000"/><path d="M223.90,82.17V84.81" stroke="#ff0000" stroke-width="0.7" fill="none"/><polygon points="223.90,86.59 220.30,80.59 227.50,80.59" fill="none" stroke="#ff0000" stroke-width="0.8"/><circle cx="223.90" cy="83.49" r="0.5" fill="#ff0000"/><path d="M227.43,81.61V84.25" stroke="#ff0000" stroke-width="0.7" fill="none"/><polygon points="227.43,86.03 223.83,80.03 231.03,80.03" fill="none" stroke="#ff0000" stroke-width="0.8"/><circle cx="227.43" cy="82.93" r="0.5" fill="#ff0000"/><path d="M234.30,81.53V84.17" stroke="#ff0000" stroke-width="0.7" fill="none"/><polygon points="234.30,85.95 230.70,79.95 237.90,79.95" fill="none" stroke="#ff0000" stroke-width="0.8"/><circle cx="234.30" cy="82.85" r="0.5" fill="#ff0000"/><path d="M244.17,80.95V83.59" stroke="#ff0000" stroke-width="0.7" fill="none"/><polygon points="244.17,85.37 240.57,79.37 247.77,79.37" fill="none" stroke="#ff0000" stroke-width="0.8"/><circle cx="244.17" cy="82.27" r="0.5" fill="#ff0000"/><path d="M247.35,80.04V82.68" stroke="#ff0000" stroke-width="0.7" fill="none"/><polygon points="247.35,84.46 243.75,78.46 250.95,78.46" fill="none" stroke="#ff0000" stroke-width="0.8"/><circle cx="247.35" cy="81.36" r="0.5" fill="#ff0000"/><path d="M250.49,79.88V82.52" stroke="#ff0000" stroke-width="0.7" fill="none"/><polygon points="250.49,84.30 246.89,78.30 254.09,78.30" fill="none" stroke="#ff0000" stroke-width="0.8"/><circle cx="250.49" cy="81.20" r="0.5" fill="#ff0000"/><path d="M256.63,80.13V82.77" stroke="#ff0000" stroke-width="0.7" fill="none"/><polygon points="256.63,84.55 253.03,78.55 260.23,78.55" fill="none" stroke="#ff0000" stroke-width="0.8"/><circle cx="256.63" cy="81.45" r="0.5" fill="#ff0000"/><path d="M271.27,79.74V82.38" stroke="#ff0000" stroke-width="0.7" fill="none"/><polygon points="271.27,84.16 267.67,78.16 274.87,78.16" fill="none" stroke="#ff0000" stroke-width="0.8"/><circle cx="271.27" cy="81.06" r="0.5" fill="#ff0000"/><path d="M290.34,78.74V81.38" stroke="#ff0000" stroke-width="0.7" fill="none"/><polygon points="290.34,83.16 286.74,77.16 293.94,77.16" fill="none" stroke="#ff0000" stroke-width="0.8"/><circle cx="290.34" cy="80.06" r="0.5" fill="#ff0000"/><path d="M292.95,78.93V81.57" stroke="#ff0000" stroke-width="0.7" fill="none"/><polygon points="292.95,83.35 289.35,77.35 296.55,77.35" fill="none" stroke="#ff0000" stroke-width="0.8"/><circle cx="292.95" cy="80.25" r="0.5" fill="#ff0000"/><path d="M329.27,78.97V81.61" stroke="#ff0000" stroke-width="0.7" fill="none"/><polygon points="329.27,83.39 325.67,77.39 332.87,77.39" fill="none" stroke="#ff0000" stroke-width="0.8"/><circle cx="329.27" cy="80.29" r="0.5" fill="#ff0000"/><path d="M71.45,183.26V185.02" stroke="#ff0000" stroke-width="0.7" fill="none"/><polygon points="71.45,180.54 67.95,184.14 71.45,187.74 74.95,184.14" fill="none" stroke="#ff0000" stroke-width="0.8"/><circle cx="71.45" cy="184.14" r="0.5" fill="#ff0000"/><path d="M88.53,143.35V145.11" stroke="#ff0000" stroke-width="0.7" fill="none"/><polygon points="88.53,140.63 85.03,144.23 88.53,147.83 92.03,144.23" fill="none" stroke="#ff0000" stroke-width="0.8"/><circle cx="88.53" cy="144.23" r="0.5" fill="#ff0000"/><path d="M100.38,129.74V131.50" stroke="#ff0000" stroke-width="0.7" fill="none"/><polygon points="100.38,127.02 96.88,130.62 100.38,134.22 103.88,130.62" fill="none" stroke="#ff0000" stroke-width="0.8"/><circle cx="100.38" cy="130.62" r="0.5" fill="#ff0000"/><path d="M106.13,123.45V125.21" stroke="#ff0000" stroke-width="0.7" fill="none"/><polygon points="106.13,120.73 102.63,124.33 106.13,127.93 109.63,124.33" fill="none" stroke="#ff0000" stroke-width="0.8"/><circle cx="106.13" cy="124.33" r="0.5" fill="#ff0000"/><path d="M116.62,113.72V115.48" stroke="#ff0000" stroke-width="0.7" fill="none"/><polygon points="116.62,111.00 113.12,114.60 116.62,118.20 120.12,114.60" fill="none" stroke="#ff0000" stroke-width="0.8"/><circle cx="116.62" cy="114.60" r="0.5" fill="#ff0000"/><path d="M124.06,108.80V110.56" stroke="#ff0000" stroke-width="0.7" fill="none"/><polygon points="124.06,106.08 120.56,109.68 124.06,113.28 127.56,109.68" fill="none" stroke="#ff0000" stroke-width="0.8"/><circle cx="124.06" cy="109.68" r="0.5" fill="#ff0000"/><path d="M137.27,102.54V104.30" stroke="#ff0000" stroke-width="0.7" fill="none"/><polygon points="137.27,99.82 133.77,103.42 137.27,107.02 140.77,103.42" fill="none" stroke="#ff0000" stroke-width="0.8"/><circle cx="137.27" cy="103.42" r="0.5" fill="#ff0000"/><path d="M143.25,99.76V101.52" stroke="#ff0000" stroke-width="0.7" fill="none"/><polygon points="143.25,97.04 139.75,100.64 143.25,104.24 146.75,100.64" fill="none" stroke="#ff0000" stroke-width="0.8"/><circle cx="143.25" cy="100.64" r="0.5" fill="#ff0000"/><path d="M148.90,96.98V98.74" stroke="#ff0000" stroke-width="0.7" fill="none"/><polygon points="148.90,94.26 145.40,97.86 148.90,101.46 152.40,97.86" fill="none" stroke="#ff0000" stroke-width="0.8"/><circle cx="148.90" cy="97.86" r="0.5" fill="#ff0000"/><path d="M154.28,96.34V98.10" stroke="#ff0000" stroke-width="0.7" fill="none"/><polygon points="154.28,93.62 150.78,97.22 154.28,100.82 157.78,97.22" fill="none" stroke="#ff0000" stroke-width="0.8"/><circle cx="154.28" cy="97.22" r="0.5" fill="#ff0000"/><path d="M159.42,95.65V97.41" stroke="#ff0000" stroke-width="0.7" fill="none"/><polygon points="159.42,92.93 155.92,96.53 159.42,100.13 162.92,96.53" fill="none" stroke="#ff0000" stroke-width="0.8"/><circle cx="159.42" cy="96.53" r="0.5" fill="#ff0000"/><path d="M164.35,94.26V96.02" stroke="#ff0000" stroke-width="0.7" fill="none"/><polygon points="164.35,91.54 160.85,95.14 164.35,98.74 167.85,95.14" fill="none" stroke="#ff0000" stroke-width="0.8"/><circle cx="164.35" cy="95.14" r="0.5" fill="#ff0000"/><path d="M169.09,93.63V95.39" stroke="#ff0000" stroke-width="0.7" fill="none"/><polygon points="169.09,90.91 165.59,94.51 169.09,98.11 172.59,94.51" fill="none" stroke="#ff0000" stroke-width="0.8"/><circle cx="169.09" cy="94.51" r="0.5" fill="#ff0000"/><path d="M178.10,92.64V94.40" stroke="#ff0000" stroke-width="0.7" fill="none"/><polygon points="178.10,89.92 174.60,93.52 178.10,97.12 181.60,93.52" fill="none" stroke="#ff0000" stroke-width="0.8"/><circle cx="178.10" cy="93.52" r="0.5" fill="#ff0000"/><path d="M182.39,91.69V93.45" stroke="#ff0000" stroke-width="0.7" fill="none"/><polygon points="182.39,88.97 178.89,92.57 182.39,96.17 185.89,92.57" fill="none" stroke="#ff0000" stroke-width="0.8"/><circle cx="182.39" cy="92.57" r="0.5" fill="#ff0000"/><path d="M186.55,91.34V93.10" stroke="#ff0000" stroke-width="0.7" fill="none"/><polygon points="186.55,88.62 183.05,92.22 186.55,95.82 190.05,92.22" fill="none" stroke="#ff0000" stroke-width="0.8"/><circle cx="186.55" cy="92.22" r="0.5" fill="#ff0000"/><path d="M190.60,91.30V93.06" stroke="#ff0000" stroke-width="0.7" fill="none"/><polygon points="190.60,88.58 187.10,92.18 190.60,95.78 194.10,92.18" fill="none" stroke="#ff0000" stroke-width="0.8"/><circle cx="190.60" cy="92.18" r="0.5" fill="#ff0000"/><path d="M194.55,91.43V93.19" stroke="#ff0000" stroke-width="0.7" fill="none"/><polygon points="194.55,88.71 191.05,92.31 194.55,95.91 198.05,92.31" fill="none" stroke="#ff0000" stroke-width="0.8"/><circle cx="194.55" cy="92.31" r="0.5" fill="#ff0000"/><path d="M198.40,90.79V92.55" stroke="#ff0000" stroke-width="0.7" fill="none"/><polygon points="198.40,88.07 194.90,91.67 198.40,95.27 201.90,91.67" fill="none" stroke="#ff0000" stroke-width="0.8"/><circle cx="198.40" cy="91.67" r="0.5" fill="#ff0000"/><path d="M202.16,90.96V92.72" stroke="#ff0000" stroke-width="0.7" fill="none"/><polygon points="202.16,88.24 198.66,91.84 202.16,95.44 205.66,91.84" fill="none" stroke="#ff0000" stroke-width="0.8"/><circle cx="202.16" cy="91.84" r="0.5" fill="#ff0000"/><path d="M209.43,90.35V92.11" stroke="#ff0000" stroke-width="0.7" fill="none"/><polygon points="209.43,87.63 205.93,91.23 209.43,94.83 212.93,91.23" fill="none" stroke="#ff0000" stroke-width="0.8"/><circle cx="209.43" cy="91.23" r="0.5" fill="#ff0000"/><path d="M212.95,90.46V92.22" stroke="#ff0000" stroke-width="0.7" fill="none"/><polygon points="212.95,87.74 209.45,91.34 212.95,94.94 216.45,91.34" fill="none" stroke="#ff0000" stroke-width="0.8"/><circle cx="212.95" cy="91.34" r="0.5" fill="#ff0000"/><path d="M216.40,89.80V91.56" stroke="#ff0000" stroke-width="0.7" fill="none"/><polygon points="216.40,87.08 212.90,90.68 216.40,94.28 219.90,90.68" fill="none" stroke="#ff0000" stroke-width="0.8"/><circle cx="216.40" cy="90.68" r="0.5" fill="#ff0000"/><path d="M219.78,89.95V91.71" stroke="#ff0000" stroke-width="0.7" fill="none"/><polygon points="219.78,87.23 216.28,90.83 219.78,94.43 223.28,90.83" fill="none" stroke="#ff0000" stroke-width="0.8"/><circle cx="219.78" cy="90.83" r="0.5" fill="#ff0000"/><path d="M226.37,88.78V90.54" stroke="#ff0000" stroke-width="0.7" fill="none"/><polygon points="226.37,86.06 222.87,89.66 226.37,93.26 229.87,89.66" fill="none" stroke="#ff0000" stroke-width="0.8"/><circle cx="226.37" cy="89.66" r="0.5" fill="#ff0000"/><path d="M235.84,88.64V90.40" stroke="#ff0000" stroke-width="0.7" fill="none"/><polygon points="235.84,85.92 232.34,89.52 235.84,93.12 239.34,89.52" fill="none" stroke="#ff0000" stroke-width="0.8"/><circle cx="235.84" cy="89.52" r="0.5" fill="#ff0000"/><path d="M238.90,88.86V90.62" stroke="#ff0000" stroke-width="0.7" fill="none"/><polygon points="238.90,86.14 235.40,89.74 238.90,93.34 242.40,89.74" fill="none" stroke="#ff0000" stroke-width="0.8"/><circle cx="238.90" cy="89.74" r="0.5" fill="#ff0000"/><path d="M241.91,89.00V90.76" stroke="#ff0000" stroke-width="0.7" fill="none"/><polygon points="241.91,86.28 238.41,89.88 241.91,93.48 245.41,89.88" fill="none" stroke="#ff0000" stroke-width="0.8"/><circle cx="241.91" cy="89.88" r="0.5" fill="#ff0000"/><path d="M247.80,88.38V90.14" stroke="#ff0000" stroke-width="0.7" fill="none"/><polygon points="247.80,85.66 244.30,89.26 247.80,92.86 251.30,89.26" fill="none" stroke="#ff0000" stroke-width="0.8"/><circle cx="247.80" cy="89.26" r="0.5" fill="#ff0000"/><path d="M261.85,87.75V89.51" stroke="#ff0000" stroke-width="0.7" fill="none"/><polygon points="261.85,85.03 258.35,88.63 261.85,92.23 265.35,88.63" fill="none" stroke="#ff0000" stroke-width="0.8"/><circle cx="261.85" cy="88.63" r="0.5" fill="#ff0000"/><path d="M280.15,87.38V89.14" stroke="#ff0000" stroke-width="0.7" fill="none"/><polygon points="280.15,84.66 276.65,88.26 280.15,91.86 283.65,88.26" fill="none" stroke="#ff0000" stroke-width="0.8"/><circle cx="280.15" cy="88.26" r="0.5" fill="#ff0000"/><path d="M282.65,87.75V89.51" stroke="#ff0000" stroke-width="0.7" fill="none"/><polygon points="282.65,85.03 279.15,88.63 282.65,92.23 286.15,88.63" fill="none" stroke="#ff0000" stroke-width="0.8"/><circle cx="282.65" cy="88.63" r="0.5" fill="#ff0000"/><path d="M317.50,87.31V89.07" stroke="#ff0000" stroke-width="0.7" fill="none"/><polygon points="317.50,84.59 314.00,88.19 317.50,91.79 321.00,88.19" fill="none" stroke="#ff0000" stroke-width="0.8"/><circle cx="317.50" cy="88.19" r="0.5" fill="#ff0000"/><path d="M69.52,190.66V192.42" stroke="#ff0000" stroke-width="0.7" fill="none"/><polygon points="69.52,188.29 72.94,190.78 71.64,194.80 67.40,194.80 66.10,190.78" fill="none" stroke="#ff0000" stroke-width="0.8"/><circle cx="69.52" cy="191.54" r="0.5" fill="#ff0000"/><path d="M85.58,152.30V154.06" stroke="#ff0000" stroke-width="0.7" fill="none"/><polygon points="85.58,149.93 89.00,152.42 87.70,156.44 83.46,156.44 82.16,152.42" fill="none" stroke="#ff0000" stroke-width="0.8"/><circle cx="85.58" cy="153.18" r="0.5" fill="#ff0000"/><path d="M96.73,136.60V138.36" stroke="#ff0000" stroke-width="0.7" fill="none"/><polygon points="96.73,134.23 100.15,136.72 98.85,140.74 94.61,140.74 93.31,136.72" fill="none" stroke="#ff0000" stroke-width="0.8"/><circle cx="96.73" cy="137.48" r="0.5" fill="#ff0000"/><path d="M102.14,129.54V131.30" stroke="#ff0000" stroke-width="0.7" fill="none"/><polygon points="102.14,127.17 105.56,129.66 104.26,133.68 100.02,133.68 98.72,129.66" fill="none" stroke="#ff0000" stroke-width="0.8"/><circle cx="102.14" cy="130.42" r="0.5" fill="#ff0000"/><path d="M112.01,119.62V121.38" stroke="#ff0000" stroke-width="0.7" fill="none"/><polygon points="112.01,117.25 115.43,119.74 114.13,123.76 109.89,123.76 108.59,119.74" fill="none" stroke="#ff0000" stroke-width="0.8"/><circle cx="112.01" cy="120.50" r="0.5" fill="#ff0000"/><path d="M119.01,115.46V117.22" stroke="#ff0000" stroke-width="0.7" fill="none"/><polygon points="119.01,113.09 122.43,115.58 121.13,119.60 116.89,119.60 115.59,115.58" fill="none" stroke="#ff0000" stroke-width="0.8"/><circle cx="119.01" cy="116.34" r="0.5" fill="#ff0000"/><path d="M131.44,110.68V112.44" stroke="#ff0000" stroke-width="0.7" fill="none"/><polygon points="131.44,108.31 134.86,110.80 133.56,114.82 129.32,114.82 128.02,110.80" fill="none" stroke="#ff0000" stroke-width="0.8"/><circle cx="131.44" cy="111.56" r="0.5" fill="#ff0000"/><path d="M137.06,107.84V109.60" stroke="#ff0000" stroke-width="0.7" fill="none"/><polygon points="137.06,105.47 140.48,107.96 139.18,111.98 134.94,111.98 133.64,107.96" fill="none" stroke="#ff0000" stroke-width="0.8"/><circle cx="137.06" cy="108.72" r="0.5" fill="#ff0000"/><path d="M142.38,105.94V107.70" stroke="#ff0000" stroke-width="0.7" fill="none"/><polygon points="142.38,103.57 145.80,106.06 144.50,110.08 140.26,110.08 138.96,106.06" fill="none" stroke="#ff0000" stroke-width="0.8"/><circle cx="142.38" cy="106.82" r="0.5" fill="#ff0000"/><path d="M147.44,104.90V106.66" stroke="#ff0000" stroke-width="0.7" fill="none"/><polygon points="147.44,102.53 150.86,105.02 149.56,109.04 145.32,109.04 144.02,105.02" fill="none" stroke="#ff0000" stroke-width="0.8"/><circle cx="147.44" cy="105.78" r="0.5" fill="#ff0000"/><path d="M152.28,104.45V106.21" stroke="#ff0000" stroke-width="0.7" fill="none"/><polygon points="152.28,102.08 155.70,104.57 154.40,108.59 150.16,108.59 148.86,104.57" fill="none" stroke="#ff0000" stroke-width="0.8"/><circle cx="152.28" cy="105.33" r="0.5" fill="#ff0000"/><path d="M156.92,103.26V105.02" stroke="#ff0000" stroke-width="0.7" fill="none"/><polygon points="156.92,100.89 160.34,103.38 159.04,107.40 154.80,107.40 153.50,103.38" fill="none" stroke="#ff0000" stroke-width="0.8"/><circle cx="156.92" cy="104.14" r="0.5" fill="#ff0000"/><path d="M161.38,102.79V104.55" stroke="#ff0000" stroke-width="0.7" fill="none"/><polygon points="161.38,100.42 164.80,102.91 163.50,106.93 159.26,106.93 157.96,102.91" fill="none" stroke="#ff0000" stroke-width="0.8"/><circle cx="161.38" cy="103.67" r="0.5" fill="#ff0000"/><path d="M169.85,101.85V103.61" stroke="#ff0000" stroke-width="0.7" fill="none"/><polygon points="169.85,99.48 173.27,101.97 171.97,105.99 167.73,105.99 166.43,101.97" fill="none" stroke="#ff0000" stroke-width="0.8"/><circle cx="169.85" cy="102.73" r="0.5" fill="#ff0000"/><path d="M173.89,101.59V103.35" stroke="#ff0000" stroke-width="0.7" fill="none"/><polygon points="173.89,99.22 177.31,101.71 176.01,105.73 171.77,105.73 170.47,101.71" fill="none" stroke="#ff0000" stroke-width="0.8"/><circle cx="173.89" cy="102.47" r="0.5" fill="#ff0000"/><path d="M177.81,101.32V103.08" stroke="#ff0000" stroke-width="0.7" fill="none"/><polygon points="177.81,98.95 181.23,101.44 179.93,105.46 175.69,105.46 174.39,101.44" fill="none" stroke="#ff0000" stroke-width="0.8"/><circle cx="177.81" cy="102.20" r="0.5" fill="#ff0000"/><path d="M181.62,101.59V103.35" stroke="#ff0000" stroke-width="0.7" fill="none"/><polygon points="181.62,99.22 185.04,101.71 183.74,105.73 179.50,105.73 178.20,101.71" fill="none" stroke="#ff0000" stroke-width="0.8"/><circle cx="181.62" cy="102.47" r="0.5" fill="#ff0000"/><path d="M185.33,100.58V102.34" stroke="#ff0000" stroke-width="0.7" fill="none"/><polygon points="185.33,98.21 188.75,100.70 187.45,104.72 183.21,104.72 181.91,100.70" fill="none" stroke="#ff0000" stroke-width="0.8"/><circle cx="185.33" cy="101.46" r="0.5" fill="#ff0000"/><path d="M188.95,100.19V101.95" stroke="#ff0000" stroke-width="0.7" fill="none"/><polygon points="188.95,97.82 192.37,100.31 191.07,104.33 186.83,104.33 185.53,100.31" fill="none" stroke="#ff0000" stroke-width="0.8"/><circle cx="188.95" cy="101.07" r="0.5" fill="#ff0000"/><path d="M192.49,100.90V102.66" stroke="#ff0000" stroke-width="0.7" fill="none"/><polygon points="192.49,98.53 195.91,101.02 194.61,105.04 190.37,105.04 189.07,101.02" fill="none" stroke="#ff0000" stroke-width="0.8"/><circle cx="192.49" cy="101.78" r="0.5" fill="#ff0000"/><path d="M199.33,99.62V101.38" stroke="#ff0000" stroke-width="0.7" fill="none"/><polygon points="199.33,97.25 202.75,99.74 201.45,103.76 197.21,103.76 195.91,99.74" fill="none" stroke="#ff0000" stroke-width="0.8"/><circle cx="199.33" cy="100.50" r="0.5" fill="#ff0000"/><path d="M202.64,99.42V101.18" stroke="#ff0000" stroke-width="0.7" fill="none"/><polygon points="202.64,97.05 206.06,99.54 204.76,103.56 200.52,103.56 199.22,99.54" fill="none" stroke="#ff0000" stroke-width="0.8"/><circle cx="202.64" cy="100.30" r="0.5" fill="#ff0000"/><path d="M205.88,98.63V100.39" stroke="#ff0000" stroke-width="0.7" fill="none"/><polygon points="205.88,96.26 209.30,98.75 208.00,102.77 203.76,102.77 202.46,98.75" fill="none" stroke="#ff0000" stroke-width="0.8"/><circle cx="205.88" cy="99.51" r="0.5" fill="#ff0000"/><path d="M209.07,98.92V100.68" stroke="#ff0000" stroke-width="0.7" fill="none"/><polygon points="209.07,96.55 212.49,99.04 211.19,103.06 206.95,103.06 205.65,99.04" fill="none" stroke="#ff0000" stroke-width="0.8"/><circle cx="209.07" cy="99.80" r="0.5" fill="#ff0000"/><path d="M215.27,98.50V100.26" stroke="#ff0000" stroke-width="0.7" fill="none"/><polygon points="215.27,96.13 218.69,98.62 217.39,102.64 213.15,102.64 211.85,98.62" fill="none" stroke="#ff0000" stroke-width="0.8"/><circle cx="215.27" cy="99.38" r="0.5" fill="#ff0000"/><path d="M224.17,97.47V99.23" stroke="#ff0000" stroke-width="0.7" fill="none"/><polygon points="224.17,95.10 227.59,97.59 226.29,101.61 222.05,101.61 220.75,97.59" fill="none" stroke="#ff0000" stroke-width="0.8"/><circle cx="224.17" cy="98.35" r="0.5" fill="#ff0000"/><path d="M227.05,97.95V99.71" stroke="#ff0000" stroke-width="0.7" fill="none"/><polygon points="227.05,95.58 230.47,98.07 229.17,102.09 224.93,102.09 223.63,98.07" fill="none" stroke="#ff0000" stroke-width="0.8"/><circle cx="227.05" cy="98.83" r="0.5" fill="#ff0000"/><path d="M229.88,98.01V99.77" stroke="#ff0000" stroke-width="0.7" fill="none"/><polygon points="229.88,95.64 233.30,98.13 232.00,102.15 227.76,102.15 226.46,98.13" fill="none" stroke="#ff0000" stroke-width="0.8"/><circle cx="229.88" cy="98.89" r="0.5" fill="#ff0000"/><path d="M235.43,97.79V99.55" stroke="#ff0000" stroke-width="0.7" fill="none"/><polygon points="235.43,95.42 238.85,97.91 237.55,101.93 233.31,101.93 232.01,97.91" fill="none" stroke="#ff0000" stroke-width="0.8"/><circle cx="235.43" cy="98.67" r="0.5" fill="#ff0000"/><path d="M248.64,97.54V99.30" stroke="#ff0000" stroke-width="0.7" fill="none"/><polygon points="248.64,95.17 252.06,97.66 250.76,101.68 246.52,101.68 245.22,97.66" fill="none" stroke="#ff0000" stroke-width="0.8"/><circle cx="248.64" cy="98.42" r="0.5" fill="#ff0000"/><path d="M265.86,97.28V99.04" stroke="#ff0000" stroke-width="0.7" fill="none"/><polygon points="265.86,94.91 269.28,97.40 267.98,101.42 263.74,101.42 262.44,97.40" fill="none" stroke="#ff0000" stroke-width="0.8"/><circle cx="265.86" cy="98.16" r="0.5" fill="#ff0000"/><path d="M268.21,97.32V99.08" stroke="#ff0000" stroke-width="0.7" fill="none"/><polygon points="268.21,94.95 271.63,97.44 270.33,101.46 266.09,101.46 264.79,97.44" fill="none" stroke="#ff0000" stroke-width="0.8"/><circle cx="268.21" cy="98.20" r="0.5" fill="#ff0000"/><path d="M301.00,97.15V98.91" stroke="#ff0000" stroke-width="0.7" fill="none"/><polygon points="301.00,94.78 304.42,97.27 303.12,101.29 298.88,101.29 297.58,97.27" fill="none" stroke="#ff0000" stroke-width="0.8"/><circle cx="301.00" cy="98.03" r="0.5" fill="#ff0000"/><path d="M66.64,202.75V204.51" stroke="#ff0000" stroke-width="0.7" fill="none"/><circle cx="66.64" cy="203.63" r="3.7" fill="none" stroke="#ff0000" stroke-width="0.8"/><circle cx="66.64" cy="203.63" r="0.5" fill="#ff0000"/><path d="M81.20,163.73V165.49" stroke="#ff0000" stroke-width="0.7" fill="none"/><circle cx="81.2" cy="164.61" r="3.7" fill="none" stroke="#ff0000" stroke-width="0.8"/><circle cx="81.20" cy="164.61" r="0.5" fill="#ff0000"/><path d="M91.31,145.91V147.67" stroke="#ff0000" stroke-width="0.7" fill="none"/><circle cx="91.31" cy="146.79" r="3.7" fill="none" stroke="#ff0000" stroke-width="0.8"/><circle cx="91.31" cy="146.79" r="0.5" fill="#ff0000"/><path d="M96.21,138.74V140.50" stroke="#ff0000" stroke-width="0.7" fill="none"/><circle cx="96.21" cy="139.62" r="3.7" fill="none" stroke="#ff0000" stroke-width="0.8"/><circle cx="96.21" cy="139.62" r="0.5" fill="#ff0000"/><path d="M105.16,128.33V130.09" stroke="#ff0000" stroke-width="0.7" fill="none"/><circle cx="105.16" cy="129.21" r="3.7" fill="none" stroke="#ff0000" stroke-width="0.8"/><circle cx="105.16" cy="129.21" r="0.5" fill="#ff0000"/><path d="M111.51,125.44V127.20" stroke="#ff0000" stroke-width="0.7" fill="none"/><circle cx="111.51" cy="126.32" r="3.7" fill="none" stroke="#ff0000" stroke-width="0.8"/><circle cx="111.51" cy="126.32" r="0.5" fill="#ff0000"/><path d="M122.77,120.51V122.27" stroke="#ff0000" stroke-width="0.7" fill="none"/><circle cx="122.77" cy="121.39" r="3.7" fill="none" stroke="#ff0000" stroke-width="0.8"/><circle cx="122.77" cy="121.39" r="0.5" fill="#ff0000"/><path d="M127.87,119.12V120.88" stroke="#ff0000" stroke-width="0.7" fill="none"/><circle cx="127.87" cy="120.0" r="3.7" fill="none" stroke="#ff0000" stroke-width="0.8"/><circle cx="127.87" cy="120.00" r="0.5" fill="#ff0000"/><path d="M132.69,117.61V119.37" stroke="#ff0000" stroke-width="0.7" fill="none"/><circle cx="132.69" cy="118.49" r="3.7" fill="none" stroke="#ff0000" stroke-width="0.8"/><circle cx="132.69" cy="118.49" r="0.5" fill="#ff0000"/><path d="M137.28,116.27V118.03" stroke="#ff0000" stroke-width="0.7" fill="none"/><circle cx="137.28" cy="117.15" r="3.7" fill="none" stroke="#ff0000" stroke-width="0.8"/><circle cx="137.28" cy="117.15" r="0.5" fill="#ff0000"/><path d="M141.66,114.65V116.41" stroke="#ff0000" stroke-width="0.7" fill="none"/><circle cx="141.66" cy="115.53" r="3.7" fill="none" stroke="#ff0000" stroke-width="0.8"/><circle cx="141.66" cy="115.53" r="0.5" fill="#ff0000"/><path d="M145.87,112.87V114.63" stroke="#ff0000" stroke-width="0.7" fill="none"/><circle cx="145.87" cy="113.75" r="3.7" fill="none" stroke="#ff0000" stroke-width="0.8"/><circle cx="145.87" cy="113.75" r="0.5" fill="#ff0000"/><path d="M149.91,112.44V114.20" stroke="#ff0000" stroke-width="0.7" fill="none"/><circle cx="149.91" cy="113.32" r="3.7" fill="none" stroke="#ff0000" stroke-width="0.8"/><circle cx="149.91" cy="113.32" r="0.5" fill="#ff0000"/><path d="M157.59,110.49V112.25" stroke="#ff0000" stroke-width="0.7" fill="none"/><circle cx="157.59" cy="111.37" r="3.7" fill="none" stroke="#ff0000" stroke-width="0.8"/><circle cx="157.59" cy="111.37" r="0.5" fill="#ff0000"/><path d="M161.25,110.17V111.93" stroke="#ff0000" stroke-width="0.7" fill="none"/><circle cx="161.25" cy="111.05" r="3.7" fill="none" stroke="#ff0000" stroke-width="0.8"/><circle cx="161.25" cy="111.05" r="0.5" fill="#ff0000"/><path d="M164.81,110.11V111.87" stroke="#ff0000" stroke-width="0.7" fill="none"/><circle cx="164.81" cy="110.99" r="3.7" fill="none" stroke="#ff0000" stroke-width="0.8"/><circle cx="164.81" cy="110.99" r="0.5" fill="#ff0000"/><path d="M168.26,109.77V111.53" stroke="#ff0000" stroke-width="0.7" fill="none"/><circle cx="168.26" cy="110.65" r="3.7" fill="none" stroke="#ff0000" stroke-width="0.8"/><circle cx="168.26" cy="110.65" r="0.5" fill="#ff0000"/><path d="M171.63,109.48V111.24" stroke="#ff0000" stroke-width="0.7" fill="none"/><circle cx="171.63" cy="110.36" r="3.7" fill="none" stroke="#ff0000" stroke-width="0.8"/><circle cx="171.63" cy="110.36" r="0.5" fill="#ff0000"/><path d="M174.91,109.83V111.59" stroke="#ff0000" stroke-width="0.7" fill="none"/><circle cx="174.91" cy="110.71" r="3.7" fill="none" stroke="#ff0000" stroke-width="0.8"/><circle cx="174.91" cy="110.71" r="0.5" fill="#ff0000"/><path d="M178.12,109.33V111.09" stroke="#ff0000" stroke-width="0.7" fill="none"/><circle cx="178.12" cy="110.21" r="3.7" fill="none" stroke="#ff0000" stroke-width="0.8"/><circle cx="178.12" cy="110.21" r="0.5" fill="#ff0000"/><path d="M184.31,108.79V110.55" stroke="#ff0000" stroke-width="0.7" fill="none"/><circle cx="184.31" cy="109.67" r="3.7" fill="none" stroke="#ff0000" stroke-width="0.8"/><circle cx="184.31" cy="109.67" r="0.5" fill="#ff0000"/><path d="M187.32,108.59V110.35" stroke="#ff0000" stroke-width="0.7" fill="none"/><circle cx="187.32" cy="109.47" r="3.7" fill="none" stroke="#ff0000" stroke-width="0.8"/><circle cx="187.32" cy="109.47" r="0.5" fill="#ff0000"/><path d="M190.26,109.08V110.84" stroke="#ff0000" stroke-width="0.7" fill="none"/><circle cx="190.26" cy="109.96" r="3.7" fill="none" stroke="#ff0000" stroke-width="0.8"/><circle cx="190.26" cy="109.96" r="0.5" fill="#ff0000"/><path d="M193.15,108.59V110.35" stroke="#ff0000" stroke-width="0.7" fill="none"/><circle cx="193.15" cy="109.47" r="3.7" fill="none" stroke="#ff0000" stroke-width="0.8"/><circle cx="193.15" cy="109.47" r="0.5" fill="#ff0000"/><path d="M198.77,108.68V110.44" stroke="#ff0000" stroke-width="0.7" fill="none"/><circle cx="198.77" cy="109.56" r="3.7" fill="none" stroke="#ff0000" stroke-width="0.8"/><circle cx="198.77" cy="109.56" r="0.5" fill="#ff0000"/><path d="M206.84,107.93V109.69" stroke="#ff0000" stroke-width="0.7" fill="none"/><circle cx="206.84" cy="108.81" r="3.7" fill="none" stroke="#ff0000" stroke-width="0.8"/><circle cx="206.84" cy="108.81" r="0.5" fill="#ff0000"/><path d="M209.45,107.68V109.44" stroke="#ff0000" stroke-width="0.7" fill="none"/><circle cx="209.45" cy="108.56" r="3.7" fill="none" stroke="#ff0000" stroke-width="0.8"/><circle cx="209.45" cy="108.56" r="0.5" fill="#ff0000"/><path d="M212.02,107.95V109.71" stroke="#ff0000" stroke-width="0.7" fill="none"/><circle cx="212.02" cy="108.83" r="3.7" fill="none" stroke="#ff0000" stroke-width="0.8"/><circle cx="212.02" cy="108.83" r="0.5" fill="#ff0000"/><path d="M217.04,108.19V109.95" stroke="#ff0000" stroke-width="0.7" fill="none"/><circle cx="217.04" cy="109.07" r="3.7" fill="none" stroke="#ff0000" stroke-width="0.8"/><circle cx="217.04" cy="109.07" r="0.5" fill="#ff0000"/><path d="M229.02,107.45V109.21" stroke="#ff0000" stroke-width="0.7" fill="none"/><circle cx="229.02" cy="108.33" r="3.7" fill="none" stroke="#ff0000" stroke-width="0.8"/><circle cx="229.02" cy="108.33" r="0.5" fill="#ff0000"/><path d="M244.63,107.95V109.71" stroke="#ff0000" stroke-width="0.7" fill="none"/><circle cx="244.63" cy="108.83" r="3.7" fill="none" stroke="#ff0000" stroke-width="0.8"/><circle cx="244.63" cy="108.83" r="0.5" fill="#ff0000"/><path d="M246.77,108.07V109.83" stroke="#ff0000" stroke-width="0.7" fill="none"/><circle cx="246.77" cy="108.95" r="3.7" fill="none" stroke="#ff0000" stroke-width="0.8"/><circle cx="246.77" cy="108.95" r="0.5" fill="#ff0000"/><path d="M276.49,107.73V109.49" stroke="#ff0000" stroke-width="0.7" fill="none"/><circle cx="276.49" cy="108.61" r="3.7" fill="none" stroke="#ff0000" stroke-width="0.8"/><circle cx="276.49" cy="108.61" r="0.5" fill="#ff0000"/><path d="M61.73,224.99V226.75" stroke="#ff0000" stroke-width="0.7" fill="none"/><circle cx="61.73" cy="225.87" r="3.7" fill="none" stroke="#ff0000" stroke-width="0.8"/><path d="M61.73,225.87 L58.03,225.87 A3.7,3.7 0 0 0 61.73,229.57 Z" fill="#ff0000"/><circle cx="61.73" cy="225.87" r="0.5" fill="#ff0000"/><path d="M73.73,184.23V185.99" stroke="#ff0000" stroke-width="0.7" fill="none"/><circle cx="73.73" cy="185.11" r="3.7" fill="none" stroke="#ff0000" stroke-width="0.8"/><path d="M73.73,185.11 L70.03,185.11 A3.7,3.7 0 0 0 73.73,188.81 Z" fill="#ff0000"/><circle cx="73.73" cy="185.11" r="0.5" fill="#ff0000"/><path d="M82.06,165.65V167.41" stroke="#ff0000" stroke-width="0.7" fill="none"/><circle cx="82.06" cy="166.53" r="3.7" fill="none" stroke="#ff0000" stroke-width="0.8"/><path d="M82.06,166.53 L78.36,166.53 A3.7,3.7 0 0 0 82.06,170.23 Z" fill="#ff0000"/><circle cx="82.06" cy="166.53" r="0.5" fill="#ff0000"/><path d="M86.11,158.23V159.99" stroke="#ff0000" stroke-width="0.7" fill="none"/><circle cx="86.11" cy="159.11" r="3.7" fill="none" stroke="#ff0000" stroke-width="0.8"/><path d="M86.11,159.11 L82.41,159.11 A3.7,3.7 0 0 0 86.11,162.81 Z" fill="#ff0000"/><circle cx="86.11" cy="159.11" r="0.5" fill="#ff0000"/><path d="M93.48,147.53V149.29" stroke="#ff0000" stroke-width="0.7" fill="none"/><circle cx="93.48" cy="148.41" r="3.7" fill="none" stroke="#ff0000" stroke-width="0.8"/><path d="M93.48,148.41 L89.78,148.41 A3.7,3.7 0 0 0 93.48,152.11 Z" fill="#ff0000"/><circle cx="93.48" cy="148.41" r="0.5" fill="#ff0000"/><path d="M98.71,142.36V144.12" stroke="#ff0000" stroke-width="0.7" fill="none"/><circle cx="98.71" cy="143.24" r="3.7" fill="none" stroke="#ff0000" stroke-width="0.8"/><path d="M98.71,143.24 L95.01,143.24 A3.7,3.7 0 0 0 98.71,146.94 Z" fill="#ff0000"/><circle cx="98.71" cy="143.24" r="0.5" fill="#ff0000"/><path d="M108.00,135.74V137.50" stroke="#ff0000" stroke-width="0.7" fill="none"/><circle cx="108.0" cy="136.62" r="3.7" fill="none" stroke="#ff0000" stroke-width="0.8"/><path d="M108.0,136.62 L104.30,136.62 A3.7,3.7 0 0 0 108.00,140.32 Z" fill="#ff0000"/><circle cx="108.00" cy="136.62" r="0.5" fill="#ff0000"/><path d="M112.20,133.62V135.38" stroke="#ff0000" stroke-width="0.7" fill="none"/><circle cx="112.2" cy="134.5" r="3.7" fill="none" stroke="#ff0000" stroke-width="0.8"/><path d="M112.2,134.5 L108.50,134.50 A3.7,3.7 0 0 0 112.20,138.20 Z" fill="#ff0000"/><circle cx="112.20" cy="134.50" r="0.5" fill="#ff0000"/><path d="M116.18,131.66V133.42" stroke="#ff0000" stroke-width="0.7" fill="none"/><circle cx="116.18" cy="132.54" r="3.7" fill="none" stroke="#ff0000" stroke-width="0.8"/><path d="M116.18,132.54 L112.48,132.54 A3.7,3.7 0 0 0 116.18,136.24 Z" fill="#ff0000"/><circle cx="116.18" cy="132.54" r="0.5" fill="#ff0000"/><path d="M119.96,130.80V132.56" stroke="#ff0000" stroke-width="0.7" fill="none"/><circle cx="119.96" cy="131.68" r="3.7" fill="none" stroke="#ff0000" stroke-width="0.8"/><path d="M119.96,131.68 L116.26,131.68 A3.7,3.7 0 0 0 119.96,135.38 Z" fill="#ff0000"/><circle cx="119.96" cy="131.68" r="0.5" fill="#ff0000"/><path d="M123.57,130.24V132.00" stroke="#ff0000" stroke-width="0.7" fill="none"/><circle cx="123.57" cy="131.12" r="3.7" fill="none" stroke="#ff0000" stroke-width="0.8"/><path d="M123.57,131.12 L119.87,131.12 A3.7,3.7 0 0 0 123.57,134.82 Z" fill="#ff0000"/><circle cx="123.57" cy="131.12" r="0.5" fill="#ff0000"/><path d="M127.04,128.63V130.39" stroke="#ff0000" stroke-width="0.7" fill="none"/><circle cx="127.04" cy="129.51" r="3.7" fill="none" stroke="#ff0000" stroke-width="0.8"/><path d="M127.04,129.51 L123.34,129.51 A3.7,3.7 0 0 0 127.04,133.21 Z" fill="#ff0000"/><circle cx="127.04" cy="129.51" r="0.5" fill="#ff0000"/><path d="M130.37,127.90V129.66" stroke="#ff0000" stroke-width="0.7" fill="none"/><circle cx="130.37" cy="128.78" r="3.7" fill="none" stroke="#ff0000" stroke-width="0.8"/><path d="M130.37,128.78 L126.67,128.78 A3.7,3.7 0 0 0 130.37,132.48 Z" fill="#ff0000"/><circle cx="130.37" cy="128.78" r="0.5" fill="#ff0000"/><path d="M136.70,126.74V128.50" stroke="#ff0000" stroke-width="0.7" fill="none"/><circle cx="136.7" cy="127.62" r="3.7" fill="none" stroke="#ff0000" stroke-width="0.8"/><path d="M136.7,127.62 L133.00,127.62 A3.7,3.7 0 0 0 136.70,131.32 Z" fill="#ff0000"/><circle cx="136.70" cy="127.62" r="0.5" fill="#ff0000"/><path d="M139.72,126.15V127.91" stroke="#ff0000" stroke-width="0.7" fill="none"/><circle cx="139.72" cy="127.03" r="3.7" fill="none" stroke="#ff0000" stroke-width="0.8"/><path d="M139.72,127.03 L136.02,127.03 A3.7,3.7 0 0 0 139.72,130.73 Z" fill="#ff0000"/><circle cx="139.72" cy="127.03" r="0.5" fill="#ff0000"/><path d="M142.65,125.52V127.28" stroke="#ff0000" stroke-width="0.7" fill="none"/><circle cx="142.65" cy="126.4" r="3.7" fill="none" stroke="#ff0000" stroke-width="0.8"/><path d="M142.65,126.4 L138.95,126.40 A3.7,3.7 0 0 0 142.65,130.10 Z" fill="#ff0000"/><circle cx="142.65" cy="126.40" r="0.5" fill="#ff0000"/><path d="M145.50,125.87V127.63" stroke="#ff0000" stroke-width="0.7" fill="none"/><circle cx="145.5" cy="126.75" r="3.7" fill="none" stroke="#ff0000" stroke-width="0.8"/><path d="M145.5,126.75 L141.80,126.75 A3.7,3.7 0 0 0 145.50,130.45 Z" fill="#ff0000"/><circle cx="145.50" cy="126.75" r="0.5" fill="#ff0000"/><path d="M148.27,125.21V126.97" stroke="#ff0000" stroke-width="0.7" fill="none"/><circle cx="148.27" cy="126.09" r="3.7" fill="none" stroke="#ff0000" stroke-width="0.8"/><path d="M148.27,126.09 L144.57,126.09 A3.7,3.7 0 0 0 148.27,129.79 Z" fill="#ff0000"/><circle cx="148.27" cy="126.09" r="0.5" fill="#ff0000"/><path d="M150.98,124.04V125.80" stroke="#ff0000" stroke-width="0.7" fill="none"/><circle cx="150.98" cy="124.92" r="3.7" fill="none" stroke="#ff0000" stroke-width="0.8"/><path d="M150.98,124.92 L147.28,124.92 A3.7,3.7 0 0 0 150.98,128.62 Z" fill="#ff0000"/><circle cx="150.98" cy="124.92" r="0.5" fill="#ff0000"/><path d="M153.62,124.27V126.03" stroke="#ff0000" stroke-width="0.7" fill="none"/><circle cx="153.62" cy="125.15" r="3.7" fill="none" stroke="#ff0000" stroke-width="0.8"/><path d="M153.62,125.15 L149.92,125.15 A3.7,3.7 0 0 0 153.62,128.85 Z" fill="#ff0000"/><circle cx="153.62" cy="125.15" r="0.5" fill="#ff0000"/><path d="M158.73,123.72V125.48" stroke="#ff0000" stroke-width="0.7" fill="none"/><circle cx="158.73" cy="124.6" r="3.7" fill="none" stroke="#ff0000" stroke-width="0.8"/><path d="M158.73,124.6 L155.03,124.60 A3.7,3.7 0 0 0 158.73,128.30 Z" fill="#ff0000"/><circle cx="158.73" cy="124.60" r="0.5" fill="#ff0000"/><path d="M161.20,123.55V125.31" stroke="#ff0000" stroke-width="0.7" fill="none"/><circle cx="161.2" cy="124.43" r="3.7" fill="none" stroke="#ff0000" stroke-width="0.8"/><path d="M161.2,124.43 L157.50,124.43 A3.7,3.7 0 0 0 161.20,128.13 Z" fill="#ff0000"/><circle cx="161.20" cy="124.43" r="0.5" fill="#ff0000"/><path d="M163.63,123.42V125.18" stroke="#ff0000" stroke-width="0.7" fill="none"/><circle cx="163.63" cy="124.3" r="3.7" fill="none" stroke="#ff0000" stroke-width="0.8"/><path d="M163.63,124.3 L159.93,124.30 A3.7,3.7 0 0 0 163.63,128.00 Z" fill="#ff0000"/><circle cx="163.63" cy="124.30" r="0.5" fill="#ff0000"/><path d="M166.01,123.55V125.31" stroke="#ff0000" stroke-width="0.7" fill="none"/><circle cx="166.01" cy="124.43" r="3.7" fill="none" stroke="#ff0000" stroke-width="0.8"/><path d="M166.01,124.43 L162.31,124.43 A3.7,3.7 0 0 0 166.01,128.13 Z" fill="#ff0000"/><circle cx="166.01" cy="124.43" r="0.5" fill="#ff0000"/><path d="M170.64,123.21V124.97" stroke="#ff0000" stroke-width="0.7" fill="none"/><circle cx="170.64" cy="124.09" r="3.7" fill="none" stroke="#ff0000" stroke-width="0.8"/><path d="M170.64,124.09 L166.94,124.09 A3.7,3.7 0 0 0 170.64,127.79 Z" fill="#ff0000"/><circle cx="170.64" cy="124.09" r="0.5" fill="#ff0000"/><path d="M177.30,122.98V124.74" stroke="#ff0000" stroke-width="0.7" fill="none"/><circle cx="177.3" cy="123.86" r="3.7" fill="none" stroke="#ff0000" stroke-width="0.8"/><path d="M177.3,123.86 L173.60,123.86 A3.7,3.7 0 0 0 177.30,127.56 Z" fill="#ff0000"/><circle cx="177.30" cy="123.86" r="0.5" fill="#ff0000"/><path d="M179.45,122.81V124.57" stroke="#ff0000" stroke-width="0.7" fill="none"/><circle cx="179.45" cy="123.69" r="3.7" fill="none" stroke="#ff0000" stroke-width="0.8"/><path d="M179.45,123.69 L175.75,123.69 A3.7,3.7 0 0 0 179.45,127.39 Z" fill="#ff0000"/><circle cx="179.45" cy="123.69" r="0.5" fill="#ff0000"/><path d="M181.56,122.95V124.71" stroke="#ff0000" stroke-width="0.7" fill="none"/><circle cx="181.56" cy="123.83" r="3.7" fill="none" stroke="#ff0000" stroke-width="0.8"/><path d="M181.56,123.83 L177.86,123.83 A3.7,3.7 0 0 0 181.56,127.53 Z" fill="#ff0000"/><circle cx="181.56" cy="123.83" r="0.5" fill="#ff0000"/><path d="M185.70,122.74V124.50" stroke="#ff0000" stroke-width="0.7" fill="none"/><circle cx="185.7" cy="123.62" r="3.7" fill="none" stroke="#ff0000" stroke-width="0.8"/><path d="M185.7,123.62 L182.00,123.62 A3.7,3.7 0 0 0 185.70,127.32 Z" fill="#ff0000"/><circle cx="185.70" cy="123.62" r="0.5" fill="#ff0000"/><path d="M195.58,123.18V124.94" stroke="#ff0000" stroke-width="0.7" fill="none"/><circle cx="195.58" cy="124.06" r="3.7" fill="none" stroke="#ff0000" stroke-width="0.8"/><path d="M195.58,124.06 L191.88,124.06 A3.7,3.7 0 0 0 195.58,127.76 Z" fill="#ff0000"/><circle cx="195.58" cy="124.06" r="0.5" fill="#ff0000"/><path d="M208.45,123.34V125.10" stroke="#ff0000" stroke-width="0.7" fill="none"/><circle cx="208.45" cy="124.22" r="3.7" fill="none" stroke="#ff0000" stroke-width="0.8"/><path d="M208.45,124.22 L204.75,124.22 A3.7,3.7 0 0 0 208.45,127.92 Z" fill="#ff0000"/><circle cx="208.45" cy="124.22" r="0.5" fill="#ff0000"/><path d="M210.21,123.00V124.76" stroke="#ff0000" stroke-width="0.7" fill="none"/><circle cx="210.21" cy="123.88" r="3.7" fill="none" stroke="#ff0000" stroke-width="0.8"/><path d="M210.21,123.88 L206.51,123.88 A3.7,3.7 0 0 0 210.21,127.58 Z" fill="#ff0000"/><circle cx="210.21" cy="123.88" r="0.5" fill="#ff0000"/><path d="M234.71,122.70V124.46" stroke="#ff0000" stroke-width="0.7" fill="none"/><circle cx="234.71" cy="123.58" r="3.7" fill="none" stroke="#ff0000" stroke-width="0.8"/><path d="M234.71,123.58 L231.01,123.58 A3.7,3.7 0 0 0 234.71,127.28 Z" fill="#ff0000"/><circle cx="234.71" cy="123.58" r="0.5" fill="#ff0000"/><path d="M57.85,247.92V249.68" stroke="#ff0000" stroke-width="0.7" fill="none"/><circle cx="57.85" cy="248.8" r="3.7" fill="none" stroke="#ff0000" stroke-width="0.8"/><path d="M57.85,248.8 L54.15,248.80 A3.7,3.7 0 0 0 61.55,248.80 Z" fill="#ff0000"/><circle cx="57.85" cy="248.80" r="0.5" fill="#ff0000"/><path d="M67.83,202.40V204.16" stroke="#ff0000" stroke-width="0.7" fill="none"/><circle cx="67.83" cy="203.28" r="3.7" fill="none" stroke="#ff0000" stroke-width="0.8"/><path d="M67.83,203.28 L64.13,203.28 A3.7,3.7 0 0 0 71.53,203.28 Z" fill="#ff0000"/><circle cx="67.83" cy="203.28" r="0.5" fill="#ff0000"/><path d="M74.76,183.16V184.92" stroke="#ff0000" stroke-width="0.7" fill="none"/><circle cx="74.76" cy="184.04" r="3.7" fill="none" stroke="#ff0000" stroke-width="0.8"/><path d="M74.76,184.04 L71.06,184.04 A3.7,3.7 0 0 0 78.46,184.04 Z" fill="#ff0000"/><circle cx="74.76" cy="184.04" r="0.5" fill="#ff0000"/><path d="M78.12,176.22V177.98" stroke="#ff0000" stroke-width="0.7" fill="none"/><circle cx="78.12" cy="177.1" r="3.7" fill="none" stroke="#ff0000" stroke-width="0.8"/><path d="M78.12,177.1 L74.42,177.10 A3.7,3.7 0 0 0 81.82,177.10 Z" fill="#ff0000"/><circle cx="78.12" cy="177.10" r="0.5" fill="#ff0000"/><path d="M84.26,166.32V168.08" stroke="#ff0000" stroke-width="0.7" fill="none"/><circle cx="84.26" cy="167.2" r="3.7" fill="none" stroke="#ff0000" stroke-width="0.8"/><path d="M84.26,167.2 L80.56,167.20 A3.7,3.7 0 0 0 87.96,167.20 Z" fill="#ff0000"/><circle cx="84.26" cy="167.20" r="0.5" fill="#ff0000"/><path d="M88.61,160.74V162.50" stroke="#ff0000" stroke-width="0.7" fill="none"/><circle cx="88.61" cy="161.62" r="3.7" fill="none" stroke="#ff0000" stroke-width="0.8"/><path d="M88.61,161.62 L84.91,161.62 A3.7,3.7 0 0 0 92.31,161.62 Z" fill="#ff0000"/><circle cx="88.61" cy="161.62" r="0.5" fill="#ff0000"/><path d="M96.33,153.29V155.05" stroke="#ff0000" stroke-width="0.7" fill="none"/><circle cx="96.33" cy="154.17" r="3.7" fill="none" stroke="#ff0000" stroke-width="0.8"/><path d="M96.33,154.17 L92.63,154.17 A3.7,3.7 0 0 0 100.03,154.17 Z" fill="#ff0000"/><circle cx="96.33" cy="154.17" r="0.5" fill="#ff0000"/><path d="M99.82,149.23V150.99" stroke="#ff0000" stroke-width="0.7" fill="none"/><circle cx="99.82" cy="150.11" r="3.7" fill="none" stroke="#ff0000" stroke-width="0.8"/><path d="M99.82,150.11 L96.12,150.11 A3.7,3.7 0 0 0 103.52,150.11 Z" fill="#ff0000"/><circle cx="99.82" cy="150.11" r="0.5" fill="#ff0000"/><path d="M103.13,147.03V148.79" stroke="#ff0000" stroke-width="0.7" fill="none"/><circle cx="103.13" cy="147.91" r="3.7" fill="none" stroke="#ff0000" stroke-width="0.8"/><path d="M103.13,147.91 L99.43,147.91 A3.7,3.7 0 0 0 106.83,147.91 Z" fill="#ff0000"/><circle cx="103.13" cy="147.91" r="0.5" fill="#ff0000"/><path d="M106.28,145.19V146.95" stroke="#ff0000" stroke-width="0.7" fill="none"/><circle cx="106.28" cy="146.07" r="3.7" fill="none" stroke="#ff0000" stroke-width="0.8"/><path d="M106.28,146.07 L102.58,146.07 A3.7,3.7 0 0 0 109.98,146.07 Z" fill="#ff0000"/><circle cx="106.28" cy="146.07" r="0.5" fill="#ff0000"/><path d="M109.28,143.97V145.73" stroke="#ff0000" stroke-width="0.7" fill="none"/><circle cx="109.28" cy="144.85" r="3.7" fill="none" stroke="#ff0000" stroke-width="0.8"/><path d="M109.28,144.85 L105.58,144.85 A3.7,3.7 0 0 0 112.98,144.85 Z" fill="#ff0000"/><circle cx="109.28" cy="144.85" r="0.5" fill="#ff0000"/><path d="M112.16,142.90V144.66" stroke="#ff0000" stroke-width="0.7" fill="none"/><circle cx="112.16" cy="143.78" r="3.7" fill="none" stroke="#ff0000" stroke-width="0.8"/><path d="M112.16,143.78 L108.46,143.78 A3.7,3.7 0 0 0 115.86,143.78 Z" fill="#ff0000"/><circle cx="112.16" cy="143.78" r="0.5" fill="#ff0000"/><path d="M114.94,142.41V144.17" stroke="#ff0000" stroke-width="0.7" fill="none"/><circle cx="114.94" cy="143.29" r="3.7" fill="none" stroke="#ff0000" stroke-width="0.8"/><path d="M114.94,143.29 L111.24,143.29 A3.7,3.7 0 0 0 118.64,143.29 Z" fill="#ff0000"/><circle cx="114.94" cy="143.29" r="0.5" fill="#ff0000"/><path d="M120.20,140.94V142.70" stroke="#ff0000" stroke-width="0.7" fill="none"/><circle cx="120.2" cy="141.82" r="3.7" fill="none" stroke="#ff0000" stroke-width="0.8"/><path d="M120.2,141.82 L116.50,141.82 A3.7,3.7 0 0 0 123.90,141.82 Z" fill="#ff0000"/><circle cx="120.20" cy="141.82" r="0.5" fill="#ff0000"/><path d="M122.71,140.16V141.92" stroke="#ff0000" stroke-width="0.7" fill="none"/><circle cx="122.71" cy="141.04" r="3.7" fill="none" stroke="#ff0000" stroke-width="0.8"/><path d="M122.71,141.04 L119.01,141.04 A3.7,3.7 0 0 0 126.41,141.04 Z" fill="#ff0000"/><circle cx="122.71" cy="141.04" r="0.5" fill="#ff0000"/><path d="M125.14,140.05V141.81" stroke="#ff0000" stroke-width="0.7" fill="none"/><circle cx="125.14" cy="140.93" r="3.7" fill="none" stroke="#ff0000" stroke-width="0.8"/><path d="M125.14,140.93 L121.44,140.93 A3.7,3.7 0 0 0 128.84,140.93 Z" fill="#ff0000"/><circle cx="125.14" cy="140.93" r="0.5" fill="#ff0000"/><path d="M127.51,139.99V141.75" stroke="#ff0000" stroke-width="0.7" fill="none"/><circle cx="127.51" cy="140.87" r="3.7" fill="none" stroke="#ff0000" stroke-width="0.8"/><path d="M127.51,140.87 L123.81,140.87 A3.7,3.7 0 0 0 131.21,140.87 Z" fill="#ff0000"/><circle cx="127.51" cy="140.87" r="0.5" fill="#ff0000"/><path d="M129.82,139.15V140.91" stroke="#ff0000" stroke-width="0.7" fill="none"/><circle cx="129.82" cy="140.03" r="3.7" fill="none" stroke="#ff0000" stroke-width="0.8"/><path d="M129.82,140.03 L126.12,140.03 A3.7,3.7 0 0 0 133.52,140.03 Z" fill="#ff0000"/><circle cx="129.82" cy="140.03" r="0.5" fill="#ff0000"/><path d="M132.07,139.29V141.05" stroke="#ff0000" stroke-width="0.7" fill="none"/><circle cx="132.07" cy="140.17" r="3.7" fill="none" stroke="#ff0000" stroke-width="0.8"/><path d="M132.07,140.17 L128.37,140.17 A3.7,3.7 0 0 0 135.77,140.17 Z" fill="#ff0000"/><circle cx="132.07" cy="140.17" r="0.5" fill="#ff0000"/><path d="M134.27,139.08V140.84" stroke="#ff0000" stroke-width="0.7" fill="none"/><circle cx="134.27" cy="139.96" r="3.7" fill="none" stroke="#ff0000" stroke-width="0.8"/><path d="M134.27,139.96 L130.57,139.96 A3.7,3.7 0 0 0 137.97,139.96 Z" fill="#ff0000"/><circle cx="134.27" cy="139.96" r="0.5" fill="#ff0000"/><path d="M138.52,139.14V140.90" stroke="#ff0000" stroke-width="0.7" fill="none"/><circle cx="138.52" cy="140.02" r="3.7" fill="none" stroke="#ff0000" stroke-width="0.8"/><path d="M138.52,140.02 L134.82,140.02 A3.7,3.7 0 0 0 142.22,140.02 Z" fill="#ff0000"/><circle cx="138.52" cy="140.02" r="0.5" fill="#ff0000"/><path d="M140.58,139.03V140.79" stroke="#ff0000" stroke-width="0.7" fill="none"/><circle cx="140.58" cy="139.91" r="3.7" fill="none" stroke="#ff0000" stroke-width="0.8"/><path d="M140.58,139.91 L136.88,139.91 A3.7,3.7 0 0 0 144.28,139.91 Z" fill="#ff0000"/><circle cx="140.58" cy="139.91" r="0.5" fill="#ff0000"/><path d="M142.59,138.36V140.12" stroke="#ff0000" stroke-width="0.7" fill="none"/><circle cx="142.59" cy="139.24" r="3.7" fill="none" stroke="#ff0000" stroke-width="0.8"/><path d="M142.59,139.24 L138.89,139.24 A3.7,3.7 0 0 0 146.29,139.24 Z" fill="#ff0000"/><circle cx="142.59" cy="139.24" r="0.5" fill="#ff0000"/><path d="M144.57,138.79V140.55" stroke="#ff0000" stroke-width="0.7" fill="none"/><circle cx="144.57" cy="139.67" r="3.7" fill="none" stroke="#ff0000" stroke-width="0.8"/><path d="M144.57,139.67 L140.87,139.67 A3.7,3.7 0 0 0 148.27,139.67 Z" fill="#ff0000"/><circle cx="144.57" cy="139.67" r="0.5" fill="#ff0000"/><path d="M148.42,138.49V140.25" stroke="#ff0000" stroke-width="0.7" fill="none"/><circle cx="148.42" cy="139.37" r="3.7" fill="none" stroke="#ff0000" stroke-width="0.8"/><path d="M148.42,139.37 L144.72,139.37 A3.7,3.7 0 0 0 152.12,139.37 Z" fill="#ff0000"/><circle cx="148.42" cy="139.37" r="0.5" fill="#ff0000"/><path d="M153.96,137.68V139.44" stroke="#ff0000" stroke-width="0.7" fill="none"/><circle cx="153.96" cy="138.56" r="3.7" fill="none" stroke="#ff0000" stroke-width="0.8"/><path d="M153.96,138.56 L150.26,138.56 A3.7,3.7 0 0 0 157.66,138.56 Z" fill="#ff0000"/><circle cx="153.96" cy="138.56" r="0.5" fill="#ff0000"/><path d="M155.75,137.80V139.56" stroke="#ff0000" stroke-width="0.7" fill="none"/><circle cx="155.75" cy="138.68" r="3.7" fill="none" stroke="#ff0000" stroke-width="0.8"/><path d="M155.75,138.68 L152.05,138.68 A3.7,3.7 0 0 0 159.45,138.68 Z" fill="#ff0000"/><circle cx="155.75" cy="138.68" r="0.5" fill="#ff0000"/><path d="M157.51,137.37V139.13" stroke="#ff0000" stroke-width="0.7" fill="none"/><circle cx="157.51" cy="138.25" r="3.7" fill="none" stroke="#ff0000" stroke-width="0.8"/><path d="M157.51,138.25 L153.81,138.25 A3.7,3.7 0 0 0 161.21,138.25 Z" fill="#ff0000"/><circle cx="157.51" cy="138.25" r="0.5" fill="#ff0000"/><path d="M160.95,137.92V139.68" stroke="#ff0000" stroke-width="0.7" fill="none"/><circle cx="160.95" cy="138.8" r="3.7" fill="none" stroke="#ff0000" stroke-width="0.8"/><path d="M160.95,138.8 L157.25,138.80 A3.7,3.7 0 0 0 164.65,138.80 Z" fill="#ff0000"/><circle cx="160.95" cy="138.80" r="0.5" fill="#ff0000"/><path d="M169.17,137.67V139.43" stroke="#ff0000" stroke-width="0.7" fill="none"/><circle cx="169.17" cy="138.55" r="3.7" fill="none" stroke="#ff0000" stroke-width="0.8"/><path d="M169.17,138.55 L165.47,138.55 A3.7,3.7 0 0 0 172.87,138.55 Z" fill="#ff0000"/><circle cx="169.17" cy="138.55" r="0.5" fill="#ff0000"/><path d="M179.87,137.77V139.53" stroke="#ff0000" stroke-width="0.7" fill="none"/><circle cx="179.87" cy="138.65" r="3.7" fill="none" stroke="#ff0000" stroke-width="0.8"/><path d="M179.87,138.65 L176.17,138.65 A3.7,3.7 0 0 0 183.57,138.65 Z" fill="#ff0000"/><circle cx="179.87" cy="138.65" r="0.5" fill="#ff0000"/><path d="M181.33,137.66V139.42" stroke="#ff0000" stroke-width="0.7" fill="none"/><circle cx="181.33" cy="138.54" r="3.7" fill="none" stroke="#ff0000" stroke-width="0.8"/><path d="M181.33,138.54 L177.63,138.54 A3.7,3.7 0 0 0 185.03,138.54 Z" fill="#ff0000"/><circle cx="181.33" cy="138.54" r="0.5" fill="#ff0000"/><path d="M201.70,137.29V139.05" stroke="#ff0000" stroke-width="0.7" fill="none"/><circle cx="201.7" cy="138.17" r="3.7" fill="none" stroke="#ff0000" stroke-width="0.8"/><path d="M201.7,138.17 L198.00,138.17 A3.7,3.7 0 0 0 205.40,138.17 Z" fill="#ff0000"/><circle cx="201.70" cy="138.17" r="0.5" fill="#ff0000"/></g><path d="M46.5,13.45H389.9V263.3H46.5Z" fill="none" stroke="#000" stroke-width="1.1"/><path d="M77.72,263.3v-4M77.72,13.45v4M116.74,263.3v-4M116.74,13.45v4M155.76,263.3v-4M155.76,13.45v4M194.79,263.3v-4M194.79,13.45v4M233.81,263.3v-4M233.81,13.45v4M272.83,263.3v-4M272.83,13.45v4M311.85,263.3v-4M311.85,13.45v4M350.88,263.3v-4M350.88,13.45v4M46.5,63.42h4M389.9,63.42h-4M46.5,113.39h4M389.9,113.39h-4M46.5,163.36h4M389.9,163.36h-4M46.5,213.33h4M389.9,213.33h-4" fill="none" stroke="#000" stroke-width="0.75"/><g font-family="Liberation Sans, sans-serif" font-size="11px" fill="#111" style="filter:grayscale(1)"><text x="39.5" y="17.40" text-anchor="end">1.5</text><text x="39.5" y="67.37" text-anchor="end">1.0</text><text x="39.5" y="117.34" text-anchor="end">0.5</text><text x="39.5" y="167.31" text-anchor="end">0.0</text><text x="39.5" y="217.28" text-anchor="end">-0.5</text><text x="39.5" y="267.25" text-anchor="end">-1.0</text><text x="77.7" y="279" text-anchor="middle">0.5</text><text x="116.7" y="279" text-anchor="middle">1.0</text><text x="155.8" y="279" text-anchor="middle">1.5</text><text x="194.8" y="279" text-anchor="middle">2.0</text><text x="233.8" y="279" text-anchor="middle">2.5</text><text x="272.8" y="279" text-anchor="middle">3.0</text><text x="311.9" y="279" text-anchor="middle">3.5</text><text x="350.9" y="279" text-anchor="middle">4.0</text><text x="389.9" y="279" text-anchor="middle">4.5</text><text x="206.2" y="256.5" font-size="10.6px" textLength="11.6" lengthAdjust="spacingAndGlyphs">rσ</text><text x="217.6" y="251.5" font-size="8.2px" textLength="12.6" lengthAdjust="spacingAndGlyphs">1/2</text><text x="148.0" y="181" font-size="10.2px">F</text><text x="155.2" y="175.3" font-size="8.2px">1</text><text x="155.0" y="183.9" font-size="8.2px" textLength="14.2" lengthAdjust="spacingAndGlyphs">QQ</text><path d="M162.6,177.5h5.8" stroke="#000" stroke-width="0.9"/><text x="169.3" y="181" font-size="10.2px" textLength="29.6" lengthAdjust="spacingAndGlyphs">(r,T)/σ</text><text x="199.4" y="175.3" font-size="8.2px" textLength="12.8" lengthAdjust="spacingAndGlyphs">1/2</text><text x="148.3" y="211" font-size="10.2px" textLength="16.2" lengthAdjust="spacingAndGlyphs">2(F</text><text x="164.9" y="205.1" font-size="8.2px">3</text><path d="M165,197.6h4.4" stroke="#000" stroke-width="0.9"/><text x="164.9" y="212.7" font-size="8.2px" textLength="14.3" lengthAdjust="spacingAndGlyphs">QQ</text><text x="179.7" y="211" font-size="10.2px" textLength="31.6" lengthAdjust="spacingAndGlyphs">(r,T)-F</text><text x="211.3" y="212.7" font-size="8.2px" textLength="7.7" lengthAdjust="spacingAndGlyphs">Q</text><text x="219.0" y="211" font-size="10.2px" textLength="27.6" lengthAdjust="spacingAndGlyphs">(T))/σ</text><text x="246.4" y="205.8" font-size="8.2px" textLength="12.8" lengthAdjust="spacingAndGlyphs">1/2</text><text x="331.2" y="154" font-size="10.6px" textLength="16.8" lengthAdjust="spacingAndGlyphs">T/T</text><text x="348.2" y="157.8" font-size="8.5px">c</text><text x="334.5" y="167.2" text-anchor="end">1.002</text><text x="334.5" y="178.6" text-anchor="end">1.02</text><text x="334.5" y="189.9" text-anchor="end">1.07</text><text x="334.5" y="201.3" text-anchor="end">1.11</text><text x="334.5" y="212.7" text-anchor="end">1.16</text><text x="334.5" y="224.1" text-anchor="end">1.23</text><text x="334.5" y="235.4" text-anchor="end">1.36</text><text x="334.5" y="246.8" text-anchor="end">1.65</text><text x="334.5" y="258.2" text-anchor="end">1.98</text></g><rect x="133" y="174.7" width="7.3" height="7.3" fill="#0000ff"/><rect x="133" y="204.5" width="7.3" height="7.3" fill="none" stroke="#ff0000" stroke-width="0.6"/><circle cx="136.65" cy="208.15" r="0.5" fill="#ff0000"/><path d="M341.5,163.20H376.5M341.5,161.00v4.4M376.5,161.00v4.4" stroke="#6a6aff" stroke-width="0.8" fill="none"/><rect x="355.35" y="159.55" width="7.3" height="7.3" fill="#0000ff"/><path d="M341.5,174.57H376.5M341.5,172.38v4.4M376.5,172.38v4.4" stroke="#6a6aff" stroke-width="0.8" fill="none"/><circle cx="359" cy="174.57" r="3.5" fill="#0000ff"/><path d="M341.5,185.95H376.5M341.5,183.75v4.4M376.5,183.75v4.4" stroke="#6a6aff" stroke-width="0.8" fill="none"/><polygon points="359.00,182.85 355.40,188.85 362.60,188.85" fill="#0000ff"/><path d="M341.5,197.32H376.5M341.5,195.12v4.4M376.5,195.12v4.4" stroke="#6a6aff" stroke-width="0.8" fill="none"/><polygon points="359.00,200.42 355.40,194.42 362.60,194.42" fill="#0000ff"/><path d="M341.5,208.70H376.5M341.5,206.50v4.4M376.5,206.50v4.4" stroke="#6a6aff" stroke-width="0.8" fill="none"/><polygon points="359.00,205.10 355.50,208.70 359.00,212.30 362.50,208.70" fill="#0000ff"/><path d="M341.5,220.07H376.5M341.5,217.88v4.4M376.5,217.88v4.4" stroke="#6a6aff" stroke-width="0.8" fill="none"/><polygon points="359.00,216.82 362.42,219.31 361.12,223.33 356.88,223.33 355.58,219.31" fill="#0000ff"/><path d="M341.5,231.45H376.5M341.5,229.25v4.4M376.5,229.25v4.4" stroke="#6a6aff" stroke-width="0.8" fill="none"/><circle cx="359" cy="231.45" r="3.5" fill="none" stroke="#0000ff" stroke-width="0.9"/><path d="M359,231.45 L362.50,231.45 A3.5,3.5 0 0 0 359.00,227.95 Z" fill="#0000ff"/><path d="M341.5,242.82H376.5M341.5,240.62v4.4M376.5,240.62v4.4" stroke="#6a6aff" stroke-width="0.8" fill="none"/><circle cx="359" cy="242.82" r="3.5" fill="none" stroke="#0000ff" stroke-width="0.9"/><path d="M359,242.82 L362.50,242.82 A3.5,3.5 0 0 0 359.00,239.32 Z" fill="#0000ff"/><path d="M359,242.82 L355.50,242.82 A3.5,3.5 0 0 0 359.00,246.32 Z" fill="#0000ff"/><path d="M341.5,254.20H376.5M341.5,252.00v4.4M376.5,252.00v4.4" stroke="#6a6aff" stroke-width="0.8" fill="none"/><circle cx="359" cy="254.2" r="3.5" fill="none" stroke="#0000ff" stroke-width="0.9"/><path d="M359,254.2 L359.00,257.70 A3.5,3.5 0 0 0 359.00,250.70 Z" fill="#0000ff"/></svg></body></html>
